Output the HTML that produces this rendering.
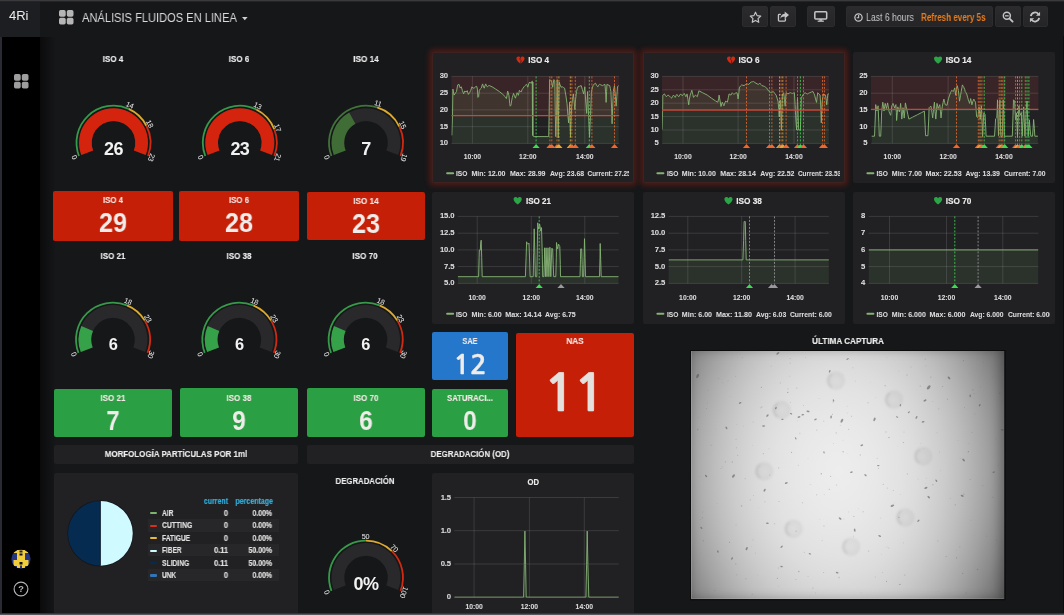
<!DOCTYPE html>
<html lang="es"><head><meta charset="utf-8"><title>ANÁLISIS FLUIDOS EN LINEA</title>
<style>
*{box-sizing:border-box;margin:0;padding:0}
html,body{width:1064px;height:615px;overflow:hidden;background:#161719;}
body{position:relative;font-family:"Liberation Sans",Arial,sans-serif;color:#d8d9da;-webkit-font-smoothing:antialiased}
.abs{position:absolute}
.panel{position:absolute;background:#212124;border-radius:2px}
.t{position:absolute;white-space:nowrap;line-height:1;transform-origin:50% 50%}
.ptitle{position:absolute;white-space:nowrap;font-weight:bold;font-size:10.5px;color:#ececec;line-height:12px;text-align:center;letter-spacing:-0.35px}
.stat{position:absolute;border-radius:2px;text-align:center;color:#ececec}
.stat .lbl{position:absolute;left:0;right:0;font-weight:bold;font-size:10px;line-height:12px;letter-spacing:-0.3px;color:#f3e3df}
.stat .val{position:absolute;left:0;right:0;font-weight:bold;line-height:1;color:#f0ebea}
svg{position:absolute;overflow:visible;will-change:transform}
.t{will-change:transform}
svg text{font-family:"Liberation Sans",Arial,sans-serif}
.btn{position:absolute;top:6px;height:21px;background:linear-gradient(#2b2b2e,#252527);border:1px solid #2c2c2f;border-radius:2px}
</style></head>
<body>
<div class="abs" style="left:0;top:0;width:1064px;height:1px;background:#3a3a3d"></div>
<div class="abs" style="left:0;top:1px;width:1064px;height:1px;background:#242427"></div>
<div class="abs" style="left:0;top:2px;width:40px;height:34.500px;background:#1d1e21"></div>
<div class="t" style="left:9.3px;top:9.00px;font-size:13px;color:#ececed;transform:scaleX(0.9894);transform-origin:0 50%;">4Ri</div>
<svg style="left:59.4px;top:9.8px" width="14.5" height="14.5" viewBox="0 0 14.5 14.5"><rect x="0" y="0" width="6.70" height="6.70" rx="1.7" fill="#b6b6b7"/><rect x="7.80" y="0" width="6.70" height="6.70" rx="1.7" fill="#b6b6b7"/><rect x="0" y="7.80" width="6.70" height="6.70" rx="1.7" fill="#b6b6b7"/><rect x="7.80" y="7.80" width="6.70" height="6.70" rx="1.7" fill="#b6b6b7"/></svg>
<div class="t" style="left:82.4px;top:11.00px;font-size:13px;color:#dadadb;transform:scaleX(0.8537);transform-origin:0 50%;">ANÁLISIS FLUIDOS EN LINEA</div>
<svg style="left:242px;top:16.500px" width="6" height="4" viewBox="0 0 6 4"><path d="M0 0h5.600L2.800 3.200z" fill="#d0d0d0"/></svg>
<div class="btn" style="left:742.2px;width:25.5px"></div>
<div class="btn" style="left:770px;width:26px"></div>
<div class="btn" style="left:806.9px;width:27.9px"></div>
<div class="btn" style="left:846px;width:146.6px"></div>
<div class="btn" style="left:995px;width:26px"></div>
<div class="btn" style="left:1022.6px;width:25.1px"></div>
<svg style="left:748.500px;top:10.500px" width="13" height="12.500" viewBox="0 0 24 23"><path d="M12 2.200l2.900 6.300 6.800.800-5 4.700 1.300 6.800-6-3.400-6 3.400 1.300-6.800-5-4.700 6.800-.800z" fill="none" stroke="#c4c4c5" stroke-width="2.200" stroke-linejoin="round"/></svg>
<svg style="left:777px;top:10.500px" width="12.500" height="11.500" viewBox="0 0 26 24"><path d="M17.500 15v4.500a1.500 1.500 0 0 1-1.500 1.500H4.500A1.500 1.500 0 0 1 3 19.500V8.500A1.500 1.500 0 0 1 4.500 7H8" fill="none" stroke="#c4c4c5" stroke-width="2.800"/><path d="M16 1l9 7.500-9 7.500v-4.500c-5 0-7.500 1.500-9 5 0-6 3-10.500 9-11z" fill="#c4c4c5"/></svg>
<svg style="left:814px;top:10.800px" width="13.500" height="11" viewBox="0 0 28 23"><rect x="1.600" y="1.600" width="24.800" height="15" rx="2" fill="none" stroke="#c4c4c5" stroke-width="3.200"/><rect x="11" y="17" width="6" height="3.500" fill="#c4c4c5"/><rect x="7.500" y="20" width="13" height="2.600" fill="#c4c4c5"/></svg>
<svg style="left:854px;top:12.800px" width="9" height="9" viewBox="0 0 20 20"><circle cx="10" cy="10" r="8.100" fill="none" stroke="#c4c4c5" stroke-width="2.800"/><path d="M10.300 4.500V10.500H6" fill="none" stroke="#c4c4c5" stroke-width="2.500"/></svg>
<div class="t" style="left:865.9px;top:12.00px;font-size:10.6px;color:#c6c7c8;transform:scaleX(0.8194);transform-origin:0 50%;">Last 6 hours</div>
<div class="t" style="left:920.5px;top:12.00px;font-size:10.6px;font-weight:bold;color:#eb7b18;transform:scaleX(0.7613);transform-origin:0 50%;">Refresh every 5s</div>
<svg style="left:1002px;top:10.800px" width="12" height="12" viewBox="0 0 26 26"><circle cx="10.500" cy="10.500" r="7.600" fill="none" stroke="#c4c4c5" stroke-width="3.200"/><path d="M16.500 16.500l6.500 6.500" stroke="#c4c4c5" stroke-width="4" stroke-linecap="round"/><path d="M6.500 10.500h8" stroke="#c4c4c5" stroke-width="2.800"/></svg>
<svg style="left:1029px;top:10.800px" width="12" height="12" viewBox="0 0 26 26"><path d="M4 11a9.200 9.200 0 0 1 16.500-4" fill="none" stroke="#c4c4c5" stroke-width="3.800"/><path d="M24 1.500v9h-9z" fill="#c4c4c5"/><path d="M22 15a9.200 9.200 0 0 1-16.500 4" fill="none" stroke="#c4c4c5" stroke-width="3.800"/><path d="M2 24.500v-9h9z" fill="#c4c4c5"/></svg>
<div class="abs" style="left:0;top:36.500px;width:2px;height:579px;background:#2a2a34"></div>
<div class="abs" style="left:2px;top:36.500px;width:38px;height:579px;background:#000"></div>
<div class="abs" style="left:40px;top:36.500px;width:16px;height:579px;background:linear-gradient(90deg,#0b0b0c,#161719)"></div>
<svg style="left:14px;top:74.3px" width="14.5" height="14.5" viewBox="0 0 14.5 14.5"><rect x="0" y="0" width="6.70" height="6.70" rx="1.7" fill="#9e9e9f"/><rect x="7.80" y="0" width="6.70" height="6.70" rx="1.7" fill="#9e9e9f"/><rect x="0" y="7.80" width="6.70" height="6.70" rx="1.7" fill="#9e9e9f"/><rect x="7.80" y="7.80" width="6.70" height="6.70" rx="1.7" fill="#9e9e9f"/></svg>
<svg style="left:11px;top:549px" width="20" height="20" viewBox="0 0 20 20"><defs><clipPath id="avc"><circle cx="10" cy="10" r="9.600"/></clipPath></defs><g clip-path="url(#avc)"><rect width="20" height="20" fill="#27357f"/><rect x="6" y="1" width="8" height="18" fill="#f1cc3b"/><rect x="2.500" y="11" width="15" height="6" fill="#f1cc3b"/><rect x="3" y="1" width="4" height="3" fill="#f1cc3b"/><rect x="13" y="1" width="4" height="3" fill="#f1cc3b"/><rect x="8.500" y="1.500" width="3" height="2" fill="#1b2355"/><rect x="8.500" y="4.500" width="3" height="2" fill="#111"/><rect x="8.500" y="13" width="3" height="2.500" fill="#111"/><rect x="9" y="16.500" width="2" height="3" fill="#27357f"/></g></svg>
<svg style="left:12.600px;top:581.400px" width="16" height="16" viewBox="0 0 16 16"><circle cx="8" cy="8" r="6.900" fill="none" stroke="#b4b4b5" stroke-width="1.150"/><text x="8" y="11.300" text-anchor="middle" font-size="9.200" font-weight="bold" fill="#b4b4b5">?</text></svg>
<div class="abs" style="left:0;top:613px;width:1064px;height:2px;background:linear-gradient(#242427,#68686c);z-index:50"></div>
<div class="abs" style="left:1063px;top:36px;width:1px;height:579px;background:#0c0c0d;z-index:49"></div>
<svg style="left:0;top:0" width="1064" height="615" viewBox="0 0 1064 615">
<path d="M78.12 156.28A37.9 37.9 0 0 1 128.99 108.11L128.26 109.75A36.1 36.1 0 0 0 79.80 155.64Z" fill="#369a4a"/><path d="M128.99 108.11A37.9 37.9 0 0 1 147.19 125.34L145.59 126.16A36.1 36.1 0 0 0 128.26 109.75Z" fill="#dcaa2e"/><path d="M147.19 125.34A37.9 37.9 0 0 1 148.88 156.28L147.20 155.64A36.1 36.1 0 0 0 145.59 126.16Z" fill="#d02a12"/><path d="M81.29 155.06A34.5 34.5 0 1 1 145.71 155.06L133.85 150.51A21.8 21.8 0 1 0 93.15 150.51Z" fill="#29292b"/><path d="M81.29 155.06A34.5 34.5 0 1 1 145.71 155.06L133.85 150.51A21.8 21.8 0 1 0 93.15 150.51Z" fill="#d5240d"/><text x="74.54" y="157.46" transform="rotate(249.0 74.54 157.46)" text-anchor="middle" dy="2.5" font-size="7.3" fill="#ededed" letter-spacing="-0.25">0</text><text x="129.84" y="105.10" transform="rotate(384.1 129.84 105.10)" text-anchor="middle" dy="2.5" font-size="7.3" fill="#ededed" letter-spacing="-0.25">14</text><text x="149.62" y="123.83" transform="rotate(422.7 149.62 123.83)" text-anchor="middle" dy="2.5" font-size="7.3" fill="#ededed" letter-spacing="-0.25">18</text><text x="151.46" y="157.46" transform="rotate(471.0 151.46 157.46)" text-anchor="middle" dy="2.5" font-size="7.3" fill="#ededed" letter-spacing="-0.25">23</text><text x="113.5" y="154.74" text-anchor="middle" font-size="18" font-weight="bold" fill="#f2f2f2" letter-spacing="-0.6">26</text>
<path d="M204.42 156.28A37.9 37.9 0 0 1 256.67 108.76L255.87 110.37A36.1 36.1 0 0 0 206.10 155.64Z" fill="#369a4a"/><path d="M256.67 108.76A37.9 37.9 0 0 1 275.11 128.94L273.44 129.60A36.1 36.1 0 0 0 255.87 110.37Z" fill="#dcaa2e"/><path d="M275.11 128.94A37.9 37.9 0 0 1 275.18 156.28L273.50 155.64A36.1 36.1 0 0 0 273.44 129.60Z" fill="#d02a12"/><path d="M207.59 155.06A34.5 34.5 0 1 1 272.01 155.06L260.15 150.51A21.8 21.8 0 1 0 219.45 150.51Z" fill="#29292b"/><path d="M207.59 155.06A34.5 34.5 0 1 1 272.01 155.06L260.15 150.51A21.8 21.8 0 1 0 219.45 150.51Z" fill="#d5240d"/><text x="200.84" y="157.46" transform="rotate(249.0 200.84 157.46)" text-anchor="middle" dy="2.5" font-size="7.3" fill="#ededed" letter-spacing="-0.25">0</text><text x="257.64" y="105.81" transform="rotate(386.4 257.64 105.81)" text-anchor="middle" dy="2.5" font-size="7.3" fill="#ededed" letter-spacing="-0.25">13</text><text x="277.69" y="127.74" transform="rotate(428.7 277.69 127.74)" text-anchor="middle" dy="2.5" font-size="7.3" fill="#ededed" letter-spacing="-0.25">17</text><text x="277.76" y="157.46" transform="rotate(471.0 277.76 157.46)" text-anchor="middle" dy="2.5" font-size="7.3" fill="#ededed" letter-spacing="-0.25">21</text><text x="239.8" y="154.74" text-anchor="middle" font-size="18" font-weight="bold" fill="#f2f2f2" letter-spacing="-0.6">23</text>
<path d="M330.62 156.28A37.9 37.9 0 0 1 377.41 106.56L376.87 108.28A36.1 36.1 0 0 0 332.30 155.64Z" fill="#42733a"/><path d="M377.41 106.56A37.9 37.9 0 0 1 400.14 126.24L398.52 127.02A36.1 36.1 0 0 0 376.87 108.28Z" fill="#dcaa2e"/><path d="M400.14 126.24A37.9 37.9 0 0 1 401.38 156.28L399.70 155.64A36.1 36.1 0 0 0 398.52 127.02Z" fill="#d02a12"/><path d="M333.79 155.06A34.5 34.5 0 1 1 398.21 155.06L386.35 150.51A21.8 21.8 0 1 0 345.65 150.51Z" fill="#29292b"/><path d="M333.79 155.06A34.5 34.5 0 0 1 349.16 112.59L355.36 123.67A21.8 21.8 0 0 0 345.65 150.51Z" fill="#3f6d35"/><text x="327.04" y="157.46" transform="rotate(249.0 327.04 157.46)" text-anchor="middle" dy="2.5" font-size="7.3" fill="#ededed" letter-spacing="-0.25">0</text><text x="377.91" y="103.41" transform="rotate(377.5 377.91 103.41)" text-anchor="middle" dy="2.5" font-size="7.3" fill="#ededed" letter-spacing="-0.25">11</text><text x="402.61" y="124.81" transform="rotate(424.3 402.61 124.81)" text-anchor="middle" dy="2.5" font-size="7.3" fill="#ededed" letter-spacing="-0.25">15</text><text x="403.96" y="157.46" transform="rotate(471.0 403.96 157.46)" text-anchor="middle" dy="2.5" font-size="7.3" fill="#ededed" letter-spacing="-0.25">19</text><text x="366.0" y="154.74" text-anchor="middle" font-size="18" font-weight="bold" fill="#f2f2f2" letter-spacing="-0.6">7</text>
<path d="M77.62 353.18A37.9 37.9 0 0 1 127.32 304.51L126.64 306.18A36.1 36.1 0 0 0 79.30 352.54Z" fill="#369a4a"/><path d="M127.32 304.51A37.9 37.9 0 0 1 145.55 320.19L144.01 321.12A36.1 36.1 0 0 0 126.64 306.18Z" fill="#dcaa2e"/><path d="M145.55 320.19A37.9 37.9 0 0 1 148.38 353.18L146.70 352.54A36.1 36.1 0 0 0 144.01 321.12Z" fill="#d02a12"/><path d="M80.79 351.96A34.5 34.5 0 1 1 145.21 351.96L133.35 347.41A21.8 21.8 0 1 0 92.65 347.41Z" fill="#29292b"/><path d="M80.79 351.96A34.5 34.5 0 0 1 81.34 325.90L92.99 330.94A21.8 21.8 0 0 0 92.65 347.41Z" fill="#35a24a"/><text x="74.04" y="354.36" transform="rotate(249.0 74.04 354.36)" text-anchor="middle" dy="2.5" font-size="7.3" fill="#ededed" letter-spacing="-0.25">0</text><text x="128.07" y="301.45" transform="rotate(382.2 128.07 301.45)" text-anchor="middle" dy="2.5" font-size="7.3" fill="#ededed" letter-spacing="-0.25">18</text><text x="147.89" y="318.50" transform="rotate(419.2 147.89 318.50)" text-anchor="middle" dy="2.5" font-size="7.3" fill="#ededed" letter-spacing="-0.25">23</text><text x="150.96" y="354.36" transform="rotate(471.0 150.96 354.36)" text-anchor="middle" dy="2.5" font-size="7.3" fill="#ededed" letter-spacing="-0.25">30</text><text x="113.0" y="350.37" text-anchor="middle" font-size="16.4" font-weight="bold" fill="#f2f2f2" letter-spacing="-0.6">6</text>
<path d="M203.92 353.18A37.9 37.9 0 0 1 253.62 304.51L252.94 306.18A36.1 36.1 0 0 0 205.60 352.54Z" fill="#369a4a"/><path d="M253.62 304.51A37.9 37.9 0 0 1 271.85 320.19L270.31 321.12A36.1 36.1 0 0 0 252.94 306.18Z" fill="#dcaa2e"/><path d="M271.85 320.19A37.9 37.9 0 0 1 274.68 353.18L273.00 352.54A36.1 36.1 0 0 0 270.31 321.12Z" fill="#d02a12"/><path d="M207.09 351.96A34.5 34.5 0 1 1 271.51 351.96L259.65 347.41A21.8 21.8 0 1 0 218.95 347.41Z" fill="#29292b"/><path d="M207.09 351.96A34.5 34.5 0 0 1 207.64 325.90L219.29 330.94A21.8 21.8 0 0 0 218.95 347.41Z" fill="#35a24a"/><text x="200.34" y="354.36" transform="rotate(249.0 200.34 354.36)" text-anchor="middle" dy="2.5" font-size="7.3" fill="#ededed" letter-spacing="-0.25">0</text><text x="254.37" y="301.45" transform="rotate(382.2 254.37 301.45)" text-anchor="middle" dy="2.5" font-size="7.3" fill="#ededed" letter-spacing="-0.25">18</text><text x="274.19" y="318.50" transform="rotate(419.2 274.19 318.50)" text-anchor="middle" dy="2.5" font-size="7.3" fill="#ededed" letter-spacing="-0.25">23</text><text x="277.26" y="354.36" transform="rotate(471.0 277.26 354.36)" text-anchor="middle" dy="2.5" font-size="7.3" fill="#ededed" letter-spacing="-0.25">30</text><text x="239.3" y="350.37" text-anchor="middle" font-size="16.4" font-weight="bold" fill="#f2f2f2" letter-spacing="-0.6">6</text>
<path d="M330.22 353.18A37.9 37.9 0 0 1 379.92 304.51L379.24 306.18A36.1 36.1 0 0 0 331.90 352.54Z" fill="#369a4a"/><path d="M379.92 304.51A37.9 37.9 0 0 1 398.15 320.19L396.61 321.12A36.1 36.1 0 0 0 379.24 306.18Z" fill="#dcaa2e"/><path d="M398.15 320.19A37.9 37.9 0 0 1 400.98 353.18L399.30 352.54A36.1 36.1 0 0 0 396.61 321.12Z" fill="#d02a12"/><path d="M333.39 351.96A34.5 34.5 0 1 1 397.81 351.96L385.95 347.41A21.8 21.8 0 1 0 345.25 347.41Z" fill="#29292b"/><path d="M333.39 351.96A34.5 34.5 0 0 1 333.94 325.90L345.59 330.94A21.8 21.8 0 0 0 345.25 347.41Z" fill="#35a24a"/><text x="326.64" y="354.36" transform="rotate(249.0 326.64 354.36)" text-anchor="middle" dy="2.5" font-size="7.3" fill="#ededed" letter-spacing="-0.25">0</text><text x="380.67" y="301.45" transform="rotate(382.2 380.67 301.45)" text-anchor="middle" dy="2.5" font-size="7.3" fill="#ededed" letter-spacing="-0.25">18</text><text x="400.49" y="318.50" transform="rotate(419.2 400.49 318.50)" text-anchor="middle" dy="2.5" font-size="7.3" fill="#ededed" letter-spacing="-0.25">23</text><text x="403.56" y="354.36" transform="rotate(471.0 403.56 354.36)" text-anchor="middle" dy="2.5" font-size="7.3" fill="#ededed" letter-spacing="-0.25">30</text><text x="365.6" y="350.37" text-anchor="middle" font-size="16.4" font-weight="bold" fill="#f2f2f2" letter-spacing="-0.6">6</text>
<path d="M330.62 591.18A37.9 37.9 0 0 1 366.00 539.70L366.00 541.50A36.1 36.1 0 0 0 332.30 590.54Z" fill="#369a4a"/><path d="M366.00 539.70A37.9 37.9 0 0 1 392.52 550.52L391.26 551.81A36.1 36.1 0 0 0 366.00 541.50Z" fill="#dcaa2e"/><path d="M392.52 550.52A37.9 37.9 0 0 1 401.38 591.18L399.70 590.54A36.1 36.1 0 0 0 391.26 551.81Z" fill="#d02a12"/><path d="M333.79 589.96A34.5 34.5 0 1 1 398.21 589.96L386.35 585.41A21.8 21.8 0 1 0 345.65 585.41Z" fill="#29292b"/><text x="327.04" y="592.36" transform="rotate(249.0 327.04 592.36)" text-anchor="middle" dy="2.5" font-size="7.3" fill="#ededed" letter-spacing="-0.25">0</text><text x="365.50" y="536.40" transform="rotate(360.0 365.50 536.40)" text-anchor="middle" dy="2.5" font-size="7.3" fill="#ededed" letter-spacing="-0.25">50</text><text x="394.33" y="548.16" transform="rotate(404.4 394.33 548.16)" text-anchor="middle" dy="2.5" font-size="7.3" fill="#ededed" letter-spacing="-0.25">70</text><text x="403.96" y="592.36" transform="rotate(471.0 403.96 592.36)" text-anchor="middle" dy="2.5" font-size="7.3" fill="#ededed" letter-spacing="-0.25">100</text><text x="366.0" y="590.24" text-anchor="middle" font-size="18" font-weight="bold" fill="#f2f2f2" letter-spacing="-0.6">0%</text>
</svg>
<div class="t" style="left:113.0px;top:54.00px;font-size:9.9px;font-weight:bold;color:#ececec;transform:translateX(-50%) scaleX(0.8139);transform-origin:50% 50%;-webkit-text-stroke-width:0.150px">ISO 4</div>
<div class="t" style="left:239.2px;top:54.00px;font-size:9.9px;font-weight:bold;color:#ececec;transform:translateX(-50%) scaleX(0.8139);transform-origin:50% 50%;-webkit-text-stroke-width:0.150px">ISO 6</div>
<div class="t" style="left:365.7px;top:54.00px;font-size:9.9px;font-weight:bold;color:#ececec;transform:translateX(-50%) scaleX(0.8307);transform-origin:50% 50%;-webkit-text-stroke-width:0.150px">ISO 14</div>
<div class="t" style="left:112.7px;top:251.00px;font-size:9.9px;font-weight:bold;color:#ececec;transform:translateX(-50%) scaleX(0.8080);transform-origin:50% 50%;-webkit-text-stroke-width:0.150px">ISO 21</div>
<div class="t" style="left:239.2px;top:251.00px;font-size:9.9px;font-weight:bold;color:#ececec;transform:translateX(-50%) scaleX(0.8080);transform-origin:50% 50%;-webkit-text-stroke-width:0.150px">ISO 38</div>
<div class="t" style="left:365.4px;top:251.00px;font-size:9.9px;font-weight:bold;color:#ececec;transform:translateX(-50%) scaleX(0.8210);transform-origin:50% 50%;-webkit-text-stroke-width:0.150px">ISO 70</div>
<div class="t" style="left:365.4px;top:476.00px;font-size:9.9px;font-weight:bold;color:#ececec;transform:translateX(-50%) scaleX(0.7901);transform-origin:50% 50%;-webkit-text-stroke-width:0.150px">DEGRADACIÓN</div>
<div class="stat" style="left:53.1px;top:190.9px;width:120.1px;height:49.8px;background:#c61f07"></div><div class="t" style="left:113.1px;top:195.00px;font-size:9.4px;font-weight:bold;color:#f4e9e6;transform:translateX(-50%) scaleX(0.8363);transform-origin:50% 50%;-webkit-text-stroke-width:0.120px">ISO 4</div><div class="t" style="left:113.1px;top:209.00px;font-size:27.8px;font-weight:bold;color:#f0ecea;transform:translateX(-50%) scaleX(0.9087);transform-origin:50% 50%;">29</div>
<div class="stat" style="left:179.2px;top:190.8px;width:119.5px;height:49.9px;background:#c61f07"></div><div class="t" style="left:238.9px;top:195.00px;font-size:9.4px;font-weight:bold;color:#f4e9e6;transform:translateX(-50%) scaleX(0.8363);transform-origin:50% 50%;-webkit-text-stroke-width:0.120px">ISO 6</div><div class="t" style="left:238.9px;top:209.00px;font-size:27.8px;font-weight:bold;color:#f0ecea;transform:translateX(-50%) scaleX(0.9087);transform-origin:50% 50%;">28</div>
<div class="stat" style="left:307.0px;top:191.8px;width:117.9px;height:48.0px;background:#c61f07"></div><div class="t" style="left:365.9px;top:196.00px;font-size:9.4px;font-weight:bold;color:#f4e9e6;transform:translateX(-50%) scaleX(0.8612);transform-origin:50% 50%;-webkit-text-stroke-width:0.120px">ISO 14</div><div class="t" style="left:365.9px;top:210.00px;font-size:27.8px;font-weight:bold;color:#f0ecea;transform:translateX(-50%) scaleX(0.9087);transform-origin:50% 50%;">23</div>
<div class="stat" style="left:53.6px;top:388.5px;width:118.4px;height:48.3px;background:#2a9f44"></div><div class="t" style="left:112.8px;top:393.00px;font-size:9.4px;font-weight:bold;color:#f4e9e6;transform:translateX(-50%) scaleX(0.8510);transform-origin:50% 50%;-webkit-text-stroke-width:0.120px">ISO 21</div><div class="t" style="left:112.8px;top:407.00px;font-size:27.8px;font-weight:bold;color:#f0ecea;transform:translateX(-50%) scaleX(0.8537);transform-origin:50% 50%;">7</div>
<div class="stat" style="left:180.1px;top:388.4px;width:118.1px;height:48.4px;background:#2a9f44"></div><div class="t" style="left:239.1px;top:393.00px;font-size:9.4px;font-weight:bold;color:#f4e9e6;transform:translateX(-50%) scaleX(0.8510);transform-origin:50% 50%;-webkit-text-stroke-width:0.120px">ISO 38</div><div class="t" style="left:239.1px;top:407.00px;font-size:27.8px;font-weight:bold;color:#f0ecea;transform:translateX(-50%) scaleX(0.8796);transform-origin:50% 50%;">9</div>
<div class="stat" style="left:307.2px;top:388.3px;width:117.7px;height:48.5px;background:#2a9f44"></div><div class="t" style="left:366.0px;top:393.00px;font-size:9.4px;font-weight:bold;color:#f4e9e6;transform:translateX(-50%) scaleX(0.8510);transform-origin:50% 50%;-webkit-text-stroke-width:0.120px">ISO 70</div><div class="t" style="left:366.0px;top:407.00px;font-size:27.8px;font-weight:bold;color:#f0ecea;transform:translateX(-50%) scaleX(0.8796);transform-origin:50% 50%;">6</div>
<div class="stat" style="left:432.2px;top:332.15px;width:75.8px;height:48.0px;background:#2477ca"></div><div class="t" style="left:470.1px;top:336.00px;font-size:9.4px;font-weight:bold;color:#f4e9e6;transform:translateX(-50%) scaleX(0.7812);transform-origin:50% 50%;-webkit-text-stroke-width:0.120px">SAE</div><div class="t" style="left:470.1px;top:353.00px;font-size:25.8px;font-weight:bold;color:#f0ecea;transform:translateX(-50%) scaleX(1.0780);transform-origin:50% 50%;font-family:'NanumGothic','Liberation Sans',sans-serif;-webkit-text-stroke:0.300px #f0ecea">12</div>
<div class="stat" style="left:432.2px;top:388.5px;width:75.8px;height:48.0px;background:#2a9f44"></div><div class="t" style="left:470.1px;top:393.00px;font-size:9.4px;font-weight:bold;color:#f4e9e6;transform:translateX(-50%) scaleX(0.8258);transform-origin:50% 50%;-webkit-text-stroke-width:0.120px">SATURACI...</div><div class="t" style="left:470.1px;top:407.00px;font-size:27.8px;font-weight:bold;color:#f0ecea;transform:translateX(-50%) scaleX(0.8796);transform-origin:50% 50%;">0</div>
<div class="stat" style="left:516.05px;top:332.5px;width:118.2px;height:104.0px;background:#c61f07"></div><div class="t" style="left:575.1px;top:336.00px;font-size:9.4px;font-weight:bold;color:#f4e9e6;transform:translateX(-50%) scaleX(0.8666);transform-origin:50% 50%;-webkit-text-stroke-width:0.120px">NAS</div><div class="t" style="left:573.3px;top:368.00px;font-size:51.3px;font-weight:bold;color:#f0ecea;transform:translateX(-50%) scaleX(1.0700);transform-origin:50% 50%;font-family:'NanumGothic','Liberation Sans',sans-serif;-webkit-text-stroke:0.500px #e4e0de;color:#e4e0de;letter-spacing:-3px">11</div>
<div class="panel" style="left:432.4px;top:52.0px;width:202.1px;height:131.0px;box-shadow:0 0 5px 2.500px rgba(140,34,22,0.42),inset 0 0 0 1px rgba(100,34,26,0.45)"></div>
<svg style="left:0;top:0" width="1064" height="615" viewBox="0 0 1064 615"><defs><clipPath id="cISO4"><rect x="451.4" y="75.4" width="167.80000000000007" height="68.5"/></clipPath><clipPath id="cISO4p"><rect x="432.4" y="52.0" width="196.6" height="131.0"/></clipPath></defs><rect x="451.4" y="76.4" width="167.8" height="39.3" fill="rgba(230,70,60,0.125)"/><g clip-path="url(#cISO4)"><polygon points="451.8,143.4 451.8,135.4 452.5,115.3 452.9,89.1 454.1,95.1 456.5,91.5 457.7,84.9 459.1,84.4 460.1,87.9 461.3,86.8 462.4,90.6 463.6,93.9 464.8,91.0 466.0,92.0 467.2,90.6 468.4,94.4 469.6,92.7 470.8,90.3 471.9,86.8 473.1,88.2 474.3,87.9 475.5,86.8 476.7,86.3 477.4,89.1 477.9,97.4 478.6,96.7 479.3,90.3 480.5,88.7 481.4,87.9 482.2,84.9 482.6,83.9 483.6,87.2 484.3,88.2 485.0,85.6 485.7,83.9 486.7,86.3 487.4,86.8 488.3,85.8 489.3,85.6 492.1,86.8 495.7,89.1 499.3,91.5 502.8,94.4 505.2,96.7 506.4,98.6 507.1,95.1 507.6,91.0 508.3,92.7 509.0,95.8 509.7,103.4 510.2,106.2 510.9,105.3 511.6,101.0 512.3,97.4 513.0,95.1 513.5,93.4 514.5,95.8 515.4,98.2 516.4,94.8 517.1,92.7 517.8,93.9 518.3,95.3 519.0,92.5 519.4,90.3 520.4,91.5 521.1,92.0 522.1,89.6 523.0,88.2 524.0,86.8 524.9,85.8 525.9,84.9 526.6,84.4 527.3,85.8 527.8,87.2 528.7,83.9 529.7,82.0 530.6,83.0 531.3,83.4 531.8,81.5 532.3,81.1 532.5,135.4 532.8,82.0 533.2,136.2 533.7,136.6 548.7,136.6 549.1,115.3 549.6,79.6 550.6,80.1 551.5,81.1 552.2,84.4 552.7,87.2 553.4,82.0 553.9,79.6 554.8,80.8 555.3,115.3 555.8,136.6 556.5,115.3 557.2,79.6 557.7,115.3 558.2,137.8 558.6,110.5 559.1,82.0 560.1,84.9 561.0,87.2 562.4,86.8 563.4,87.5 564.6,88.2 565.8,95.1 567.0,103.4 567.9,115.3 568.6,122.9 569.1,112.9 569.6,102.2 570.0,120.0 570.5,137.1 571.0,122.4 571.7,106.2 572.4,99.8 573.4,93.9 574.1,101.0 574.8,109.6 575.5,99.8 576.5,91.5 577.2,88.7 578.1,86.8 579.5,86.3 581.2,85.6 582.4,89.6 583.6,93.9 584.3,90.3 584.8,86.8 585.7,101.0 586.7,113.4 587.1,101.0 587.6,91.5 588.6,115.3 589.5,137.1 590.5,115.3 591.4,91.5 592.4,87.9 593.1,85.6 594.3,83.9 595.5,83.2 596.6,85.3 597.8,86.8 598.5,85.3 599.5,84.4 600.9,84.9 602.6,85.6 603.8,84.9 605.0,84.4 605.7,93.9 606.1,102.4 606.6,91.5 606.9,84.4 608.0,84.9 609.7,85.6 610.4,88.7 610.9,91.5 611.6,108.1 612.1,123.8 612.6,108.1 613.3,91.5 614.0,87.9 614.5,85.6 615.4,96.3 616.1,106.2 616.8,96.3 617.5,86.8 618.3,85.8 618.7,85.6 618.7,143.4" fill="rgba(126,178,109,0.115)"/></g><path d="M451.4 76.4H619.2" stroke="rgba(255,255,255,0.15)" stroke-width="0.800"/><path d="M451.4 93.2H619.2" stroke="rgba(255,255,255,0.15)" stroke-width="0.800"/><path d="M451.4 109.9H619.2" stroke="rgba(255,255,255,0.15)" stroke-width="0.800"/><path d="M451.4 126.7H619.2" stroke="rgba(255,255,255,0.15)" stroke-width="0.800"/><path d="M451.4 143.4H619.2" stroke="rgba(255,255,255,0.15)" stroke-width="0.800"/><path d="M472.4 76.4V143.4" stroke="rgba(255,255,255,0.15)" stroke-width="0.800"/><path d="M527.8 76.4V143.4" stroke="rgba(255,255,255,0.15)" stroke-width="0.800"/><path d="M584.8 76.4V143.4" stroke="rgba(255,255,255,0.15)" stroke-width="0.800"/><g clip-path="url(#cISO4)"><polyline points="451.8,135.4 452.5,115.3 452.9,89.1 454.1,95.1 456.5,91.5 457.7,84.9 459.1,84.4 460.1,87.9 461.3,86.8 462.4,90.6 463.6,93.9 464.8,91.0 466.0,92.0 467.2,90.6 468.4,94.4 469.6,92.7 470.8,90.3 471.9,86.8 473.1,88.2 474.3,87.9 475.5,86.8 476.7,86.3 477.4,89.1 477.9,97.4 478.6,96.7 479.3,90.3 480.5,88.7 481.4,87.9 482.2,84.9 482.6,83.9 483.6,87.2 484.3,88.2 485.0,85.6 485.7,83.9 486.7,86.3 487.4,86.8 488.3,85.8 489.3,85.6 492.1,86.8 495.7,89.1 499.3,91.5 502.8,94.4 505.2,96.7 506.4,98.6 507.1,95.1 507.6,91.0 508.3,92.7 509.0,95.8 509.7,103.4 510.2,106.2 510.9,105.3 511.6,101.0 512.3,97.4 513.0,95.1 513.5,93.4 514.5,95.8 515.4,98.2 516.4,94.8 517.1,92.7 517.8,93.9 518.3,95.3 519.0,92.5 519.4,90.3 520.4,91.5 521.1,92.0 522.1,89.6 523.0,88.2 524.0,86.8 524.9,85.8 525.9,84.9 526.6,84.4 527.3,85.8 527.8,87.2 528.7,83.9 529.7,82.0 530.6,83.0 531.3,83.4 531.8,81.5 532.3,81.1 532.5,135.4 532.8,82.0 533.2,136.2 533.7,136.6 548.7,136.6 549.1,115.3 549.6,79.6 550.6,80.1 551.5,81.1 552.2,84.4 552.7,87.2 553.4,82.0 553.9,79.6 554.8,80.8 555.3,115.3 555.8,136.6 556.5,115.3 557.2,79.6 557.7,115.3 558.2,137.8 558.6,110.5 559.1,82.0 560.1,84.9 561.0,87.2 562.4,86.8 563.4,87.5 564.6,88.2 565.8,95.1 567.0,103.4 567.9,115.3 568.6,122.9 569.1,112.9 569.6,102.2 570.0,120.0 570.5,137.1 571.0,122.4 571.7,106.2 572.4,99.8 573.4,93.9 574.1,101.0 574.8,109.6 575.5,99.8 576.5,91.5 577.2,88.7 578.1,86.8 579.5,86.3 581.2,85.6 582.4,89.6 583.6,93.9 584.3,90.3 584.8,86.8 585.7,101.0 586.7,113.4 587.1,101.0 587.6,91.5 588.6,115.3 589.5,137.1 590.5,115.3 591.4,91.5 592.4,87.9 593.1,85.6 594.3,83.9 595.5,83.2 596.6,85.3 597.8,86.8 598.5,85.3 599.5,84.4 600.9,84.9 602.6,85.6 603.8,84.9 605.0,84.4 605.7,93.9 606.1,102.4 606.6,91.5 606.9,84.4 608.0,84.9 609.7,85.6 610.4,88.7 610.9,91.5 611.6,108.1 612.1,123.8 612.6,108.1 613.3,91.5 614.0,87.9 614.5,85.6 615.4,96.3 616.1,106.2 616.8,96.3 617.5,86.8 618.3,85.8 618.7,85.6" fill="none" stroke="#86b374" stroke-width="1" stroke-linejoin="round" stroke-opacity="0.92"/></g><path d="M451.4 115.7H619.2" stroke="#c9473a" stroke-width="1.300"/><path d="M536.1 76.4V143.4" stroke="#3fdc52" stroke-width="0.900" stroke-dasharray="2 1.500" stroke-opacity="0.9"/><path d="M532.5 148.0L536.1 144.1L539.7 148.0Z" fill="#3fdc52"/><path d="M549.9 76.4V143.4" stroke="#ee6a2c" stroke-width="0.900" stroke-dasharray="2 1.500" stroke-opacity="0.9"/><path d="M546.3 148.0L549.9 144.1L553.5 148.0Z" fill="#ee6a2c"/><path d="M551.8 76.4V143.4" stroke="#ee6a2c" stroke-width="0.900" stroke-dasharray="2 1.500" stroke-opacity="0.9"/><path d="M548.2 148.0L551.8 144.1L555.4 148.0Z" fill="#ee6a2c"/><path d="M557.0 76.4V143.4" stroke="#ee6a2c" stroke-width="0.900" stroke-dasharray="2 1.500" stroke-opacity="0.9"/><path d="M553.4 148.0L557.0 144.1L560.6 148.0Z" fill="#ee6a2c"/><path d="M558.9 76.4V143.4" stroke="#e2a93a" stroke-width="0.900" stroke-dasharray="2 1.500" stroke-opacity="0.9"/><path d="M555.3 148.0L558.9 144.1L562.5 148.0Z" fill="#e2a93a"/><path d="M570.3 76.4V143.4" stroke="#e2a93a" stroke-width="0.900" stroke-dasharray="2 1.500" stroke-opacity="0.9"/><path d="M566.7 148.0L570.3 144.1L573.9 148.0Z" fill="#e2a93a"/><path d="M571.9 76.4V143.4" stroke="#ee6a2c" stroke-width="0.900" stroke-dasharray="2 1.500" stroke-opacity="0.9"/><path d="M568.3 148.0L571.9 144.1L575.5 148.0Z" fill="#ee6a2c"/><path d="M575.3 76.4V143.4" stroke="#ee6a2c" stroke-width="0.900" stroke-dasharray="2 1.500" stroke-opacity="0.9"/><path d="M571.7 148.0L575.3 144.1L578.9 148.0Z" fill="#ee6a2c"/><path d="M589.3 76.4V143.4" stroke="#3fdc52" stroke-width="0.900" stroke-dasharray="2 1.500" stroke-opacity="0.9"/><path d="M585.7 148.0L589.3 144.1L592.9 148.0Z" fill="#3fdc52"/><path d="M591.9 76.4V143.4" stroke="#ee6a2c" stroke-width="0.900" stroke-dasharray="2 1.500" stroke-opacity="0.9"/><path d="M588.3 148.0L591.9 144.1L595.5 148.0Z" fill="#ee6a2c"/><path d="M614.5 76.4V143.4" stroke="#ee6a2c" stroke-width="0.900" stroke-dasharray="2 1.500" stroke-opacity="0.9"/><path d="M610.9 148.0L614.5 144.1L618.1 148.0Z" fill="#ee6a2c"/><text x="448.0" y="78.4" text-anchor="end" font-size="7.7" font-weight="bold" fill="#dcdcdd" stroke="#dcdcdd" stroke-width="0.08" letter-spacing="-0.15">30</text><text x="448.0" y="95.2" text-anchor="end" font-size="7.7" font-weight="bold" fill="#dcdcdd" stroke="#dcdcdd" stroke-width="0.08" letter-spacing="-0.15">25</text><text x="448.0" y="111.9" text-anchor="end" font-size="7.7" font-weight="bold" fill="#dcdcdd" stroke="#dcdcdd" stroke-width="0.08" letter-spacing="-0.15">20</text><text x="448.0" y="128.7" text-anchor="end" font-size="7.7" font-weight="bold" fill="#dcdcdd" stroke="#dcdcdd" stroke-width="0.08" letter-spacing="-0.15">15</text><text x="448.0" y="145.4" text-anchor="end" font-size="7.7" font-weight="bold" fill="#dcdcdd" stroke="#dcdcdd" stroke-width="0.08" letter-spacing="-0.15">10</text><text x="463.7" y="159.4" font-size="7.7" font-weight="bold" fill="#dcdcdd" stroke="#dcdcdd" stroke-width="0.08" textLength="17.4" lengthAdjust="spacingAndGlyphs">10:00</text><text x="519.1" y="159.4" font-size="7.7" font-weight="bold" fill="#dcdcdd" stroke="#dcdcdd" stroke-width="0.08" textLength="17.4" lengthAdjust="spacingAndGlyphs">12:00</text><text x="576.1" y="159.4" font-size="7.7" font-weight="bold" fill="#dcdcdd" stroke="#dcdcdd" stroke-width="0.08" textLength="17.4" lengthAdjust="spacingAndGlyphs">14:00</text><text x="528.2" y="62.9" font-size="9.9" font-weight="bold" fill="#ececec" stroke="#ececec" stroke-width="0.150" textLength="20.9" lengthAdjust="spacingAndGlyphs">ISO 4</text><path transform="translate(516.4 56.4) scale(0.51)" d="M8 14.500C2 10 0 7 0 4.200 0 1.800 1.800 0 4 0c1.600 0 3 .900 4 2.300C9 .900 10.400 0 12 0c2.200 0 4 1.800 4 4.200 0 2.800-2 5.800-8 10.300z" fill="#d42a12"/><path transform="translate(516.4 56.4) scale(0.51)" d="M8.600 1.500L6.500 5.500 9.600 8.200 7.800 14.500" stroke="#212124" stroke-width="1.500" fill="none"/><g clip-path="url(#cISO4p)"><rect x="446.1" y="172.3" width="8" height="2" rx="1" fill="#86b374"/><text x="456.0" y="176.0" font-size="7.7" font-weight="bold" fill="#dcdcdd" stroke="#dcdcdd" stroke-width="0.08" textLength="11.4" lengthAdjust="spacingAndGlyphs">ISO</text><text x="471.5" y="176.0" font-size="7.7" font-weight="bold" fill="#dcdcdd" stroke="#dcdcdd" stroke-width="0.08" textLength="34.0" lengthAdjust="spacingAndGlyphs">Min: 12.00</text><text x="509.9" y="176.0" font-size="7.7" font-weight="bold" fill="#dcdcdd" stroke="#dcdcdd" stroke-width="0.08" textLength="35.6" lengthAdjust="spacingAndGlyphs">Max: 28.99</text><text x="549.9" y="176.0" font-size="7.7" font-weight="bold" fill="#dcdcdd" stroke="#dcdcdd" stroke-width="0.08" textLength="34.2" lengthAdjust="spacingAndGlyphs">Avg: 23.68</text><text x="587.6" y="176.0" font-size="7.7" font-weight="bold" fill="#dcdcdd" stroke="#dcdcdd" stroke-width="0.08" textLength="43.0" lengthAdjust="spacingAndGlyphs">Current: 27.25</text></g></svg>
<div class="panel" style="left:643.0px;top:52.0px;width:202.4px;height:130.8px;box-shadow:0 0 5px 2.500px rgba(140,34,22,0.42),inset 0 0 0 1px rgba(100,34,26,0.45)"></div>
<svg style="left:0;top:0" width="1064" height="615" viewBox="0 0 1064 615"><defs><clipPath id="cISO6"><rect x="662.1" y="75.4" width="166.79999999999995" height="68.5"/></clipPath><clipPath id="cISO6p"><rect x="643.0" y="52.0" width="196.9" height="130.8"/></clipPath></defs><rect x="662.1" y="76.4" width="166.8" height="33.6" fill="rgba(230,70,60,0.125)"/><g clip-path="url(#cISO6)"><polygon points="662.1,143.4 662.1,129.5 662.6,110.5 662.8,95.1 663.8,94.4 664.5,93.9 665.5,95.8 666.4,96.7 667.4,95.5 668.1,95.1 669.0,95.8 669.7,96.3 670.7,97.4 671.6,98.2 672.6,96.3 673.5,95.1 674.5,96.5 675.2,97.4 676.1,95.5 676.9,94.4 677.8,95.8 678.8,96.7 679.7,95.1 680.7,93.9 681.6,95.1 682.3,95.8 683.3,94.4 684.2,93.4 685.2,95.3 685.9,96.7 686.6,94.8 687.1,93.9 688.0,99.8 688.7,104.8 689.4,99.1 690.2,95.1 691.1,92.5 691.8,90.3 692.8,94.4 693.5,97.4 694.4,96.0 695.4,95.1 696.3,96.0 697.3,96.7 698.2,93.4 698.9,90.8 702.5,92.7 707.3,95.1 711.5,98.2 715.6,101.0 717.9,102.2 718.7,98.2 719.1,95.1 720.1,101.0 721.0,106.5 721.7,103.9 722.2,102.2 723.2,104.3 723.9,105.8 724.8,102.9 725.8,101.0 726.7,101.7 727.4,102.2 728.4,97.4 729.1,93.9 730.1,94.6 731.0,95.1 731.7,93.6 732.2,92.7 733.1,93.6 733.9,94.4 734.6,93.6 735.3,93.2 736.2,92.9 737.0,92.7 737.7,96.3 738.1,98.9 738.9,92.7 739.3,87.9 740.5,86.0 741.7,84.9 742.9,85.3 744.1,85.6 745.3,84.6 746.5,83.9 747.6,84.1 748.8,84.4 750.0,83.0 751.2,82.0 752.4,81.8 753.6,81.5 754.8,82.5 756.0,83.2 757.1,83.9 758.3,84.4 759.3,83.7 760.0,83.2 760.9,84.6 761.9,85.6 763.1,86.0 764.3,86.3 765.5,87.2 766.6,87.9 767.8,89.8 769.0,91.5 770.2,92.2 771.4,92.7 772.3,92.0 773.3,91.5 774.7,93.4 776.1,95.1 777.1,98.2 778.0,101.0 778.8,109.3 779.2,116.7 779.7,107.7 780.2,99.8 780.9,115.3 781.4,130.0 781.8,112.9 782.3,95.1 783.0,93.6 783.7,92.7 784.5,99.8 785.2,106.2 785.6,98.6 786.1,92.7 787.1,93.4 788.0,93.9 789.2,93.2 790.4,92.7 791.6,93.2 792.8,93.4 793.7,92.9 794.4,92.7 795.1,104.6 795.6,115.3 796.1,123.6 796.6,130.0 797.0,112.9 797.5,97.4 798.2,115.3 798.7,130.0 800.4,130.0 800.8,115.3 801.3,98.6 802.0,96.5 802.7,95.1 803.9,93.6 805.1,92.7 806.3,93.4 807.5,93.9 808.7,93.2 809.9,92.7 811.3,92.0 813.0,91.5 813.9,93.4 814.6,95.1 815.6,99.1 816.5,102.4 817.2,96.7 817.7,92.7 818.9,94.1 820.1,95.1 820.8,108.1 821.3,122.9 821.7,111.7 822.2,101.0 822.9,96.7 823.6,93.9 824.6,94.6 825.5,95.1 826.3,100.5 826.7,104.8 827.4,98.6 827.9,93.9 828.9,93.9 828.9,143.4" fill="rgba(126,178,109,0.115)"/></g><path d="M662.1 76.4H828.9" stroke="rgba(255,255,255,0.15)" stroke-width="0.800"/><path d="M662.1 89.8H828.9" stroke="rgba(255,255,255,0.15)" stroke-width="0.800"/><path d="M662.1 103.2H828.9" stroke="rgba(255,255,255,0.15)" stroke-width="0.800"/><path d="M662.1 116.6H828.9" stroke="rgba(255,255,255,0.15)" stroke-width="0.800"/><path d="M662.1 130.0H828.9" stroke="rgba(255,255,255,0.15)" stroke-width="0.800"/><path d="M662.1 143.4H828.9" stroke="rgba(255,255,255,0.15)" stroke-width="0.800"/><path d="M683.0 76.4V143.4" stroke="rgba(255,255,255,0.15)" stroke-width="0.800"/><path d="M738.1 76.4V143.4" stroke="rgba(255,255,255,0.15)" stroke-width="0.800"/><path d="M794.0 76.4V143.4" stroke="rgba(255,255,255,0.15)" stroke-width="0.800"/><g clip-path="url(#cISO6)"><polyline points="662.1,129.5 662.6,110.5 662.8,95.1 663.8,94.4 664.5,93.9 665.5,95.8 666.4,96.7 667.4,95.5 668.1,95.1 669.0,95.8 669.7,96.3 670.7,97.4 671.6,98.2 672.6,96.3 673.5,95.1 674.5,96.5 675.2,97.4 676.1,95.5 676.9,94.4 677.8,95.8 678.8,96.7 679.7,95.1 680.7,93.9 681.6,95.1 682.3,95.8 683.3,94.4 684.2,93.4 685.2,95.3 685.9,96.7 686.6,94.8 687.1,93.9 688.0,99.8 688.7,104.8 689.4,99.1 690.2,95.1 691.1,92.5 691.8,90.3 692.8,94.4 693.5,97.4 694.4,96.0 695.4,95.1 696.3,96.0 697.3,96.7 698.2,93.4 698.9,90.8 702.5,92.7 707.3,95.1 711.5,98.2 715.6,101.0 717.9,102.2 718.7,98.2 719.1,95.1 720.1,101.0 721.0,106.5 721.7,103.9 722.2,102.2 723.2,104.3 723.9,105.8 724.8,102.9 725.8,101.0 726.7,101.7 727.4,102.2 728.4,97.4 729.1,93.9 730.1,94.6 731.0,95.1 731.7,93.6 732.2,92.7 733.1,93.6 733.9,94.4 734.6,93.6 735.3,93.2 736.2,92.9 737.0,92.7 737.7,96.3 738.1,98.9 738.9,92.7 739.3,87.9 740.5,86.0 741.7,84.9 742.9,85.3 744.1,85.6 745.3,84.6 746.5,83.9 747.6,84.1 748.8,84.4 750.0,83.0 751.2,82.0 752.4,81.8 753.6,81.5 754.8,82.5 756.0,83.2 757.1,83.9 758.3,84.4 759.3,83.7 760.0,83.2 760.9,84.6 761.9,85.6 763.1,86.0 764.3,86.3 765.5,87.2 766.6,87.9 767.8,89.8 769.0,91.5 770.2,92.2 771.4,92.7 772.3,92.0 773.3,91.5 774.7,93.4 776.1,95.1 777.1,98.2 778.0,101.0 778.8,109.3 779.2,116.7 779.7,107.7 780.2,99.8 780.9,115.3 781.4,130.0 781.8,112.9 782.3,95.1 783.0,93.6 783.7,92.7 784.5,99.8 785.2,106.2 785.6,98.6 786.1,92.7 787.1,93.4 788.0,93.9 789.2,93.2 790.4,92.7 791.6,93.2 792.8,93.4 793.7,92.9 794.4,92.7 795.1,104.6 795.6,115.3 796.1,123.6 796.6,130.0 797.0,112.9 797.5,97.4 798.2,115.3 798.7,130.0 800.4,130.0 800.8,115.3 801.3,98.6 802.0,96.5 802.7,95.1 803.9,93.6 805.1,92.7 806.3,93.4 807.5,93.9 808.7,93.2 809.9,92.7 811.3,92.0 813.0,91.5 813.9,93.4 814.6,95.1 815.6,99.1 816.5,102.4 817.2,96.7 817.7,92.7 818.9,94.1 820.1,95.1 820.8,108.1 821.3,122.9 821.7,111.7 822.2,101.0 822.9,96.7 823.6,93.9 824.6,94.6 825.5,95.1 826.3,100.5 826.7,104.8 827.4,98.6 827.9,93.9 828.9,93.9" fill="none" stroke="#86b374" stroke-width="1" stroke-linejoin="round" stroke-opacity="0.92"/></g><path d="M662.1 110.0H828.9" stroke="#c9473a" stroke-width="1.300"/><path d="M746.5 76.4V143.4" stroke="#ee6a2c" stroke-width="0.900" stroke-dasharray="2 1.500" stroke-opacity="0.9"/><path d="M742.9 148.0L746.5 144.1L750.1 148.0Z" fill="#ee6a2c"/><path d="M769.5 76.4V143.4" stroke="#ee6a2c" stroke-width="0.900" stroke-dasharray="2 1.500" stroke-opacity="0.9"/><path d="M765.9 148.0L769.5 144.1L773.1 148.0Z" fill="#ee6a2c"/><path d="M771.9 76.4V143.4" stroke="#ee6a2c" stroke-width="0.900" stroke-dasharray="2 1.500" stroke-opacity="0.9"/><path d="M768.3 148.0L771.9 144.1L775.5 148.0Z" fill="#ee6a2c"/><path d="M779.5 76.4V143.4" stroke="#e2a93a" stroke-width="0.900" stroke-dasharray="2 1.500" stroke-opacity="0.9"/><path d="M775.9 148.0L779.5 144.1L783.1 148.0Z" fill="#e2a93a"/><path d="M781.1 76.4V143.4" stroke="#ee6a2c" stroke-width="0.900" stroke-dasharray="2 1.500" stroke-opacity="0.9"/><path d="M777.5 148.0L781.1 144.1L784.7 148.0Z" fill="#ee6a2c"/><path d="M782.8 76.4V143.4" stroke="#e2a93a" stroke-width="0.900" stroke-dasharray="2 1.500" stroke-opacity="0.9"/><path d="M779.2 148.0L782.8 144.1L786.4 148.0Z" fill="#e2a93a"/><path d="M786.1 76.4V143.4" stroke="#ee6a2c" stroke-width="0.900" stroke-dasharray="2 1.500" stroke-opacity="0.9"/><path d="M782.5 148.0L786.1 144.1L789.7 148.0Z" fill="#ee6a2c"/><path d="M797.5 76.4V143.4" stroke="#ee6a2c" stroke-width="0.900" stroke-dasharray="2 1.500" stroke-opacity="0.9"/><path d="M793.9 148.0L797.5 144.1L801.1 148.0Z" fill="#ee6a2c"/><path d="M800.4 76.4V143.4" stroke="#3fdc52" stroke-width="0.900" stroke-dasharray="2 1.500" stroke-opacity="0.9"/><path d="M796.8 148.0L800.4 144.1L804.0 148.0Z" fill="#3fdc52"/><path d="M803.5 76.4V143.4" stroke="#ee6a2c" stroke-width="0.900" stroke-dasharray="2 1.500" stroke-opacity="0.9"/><path d="M799.9 148.0L803.5 144.1L807.1 148.0Z" fill="#ee6a2c"/><path d="M822.5 76.4V143.4" stroke="#ee6a2c" stroke-width="0.900" stroke-dasharray="2 1.500" stroke-opacity="0.9"/><path d="M818.9 148.0L822.5 144.1L826.1 148.0Z" fill="#ee6a2c"/><path d="M824.4 76.4V143.4" stroke="#ee6a2c" stroke-width="0.900" stroke-dasharray="2 1.500" stroke-opacity="0.9"/><path d="M820.8 148.0L824.4 144.1L828.0 148.0Z" fill="#ee6a2c"/><text x="658.7" y="78.4" text-anchor="end" font-size="7.7" font-weight="bold" fill="#dcdcdd" stroke="#dcdcdd" stroke-width="0.08" letter-spacing="-0.15">30</text><text x="658.7" y="91.8" text-anchor="end" font-size="7.7" font-weight="bold" fill="#dcdcdd" stroke="#dcdcdd" stroke-width="0.08" letter-spacing="-0.15">25</text><text x="658.7" y="105.2" text-anchor="end" font-size="7.7" font-weight="bold" fill="#dcdcdd" stroke="#dcdcdd" stroke-width="0.08" letter-spacing="-0.15">20</text><text x="658.7" y="118.6" text-anchor="end" font-size="7.7" font-weight="bold" fill="#dcdcdd" stroke="#dcdcdd" stroke-width="0.08" letter-spacing="-0.15">15</text><text x="658.7" y="132.0" text-anchor="end" font-size="7.7" font-weight="bold" fill="#dcdcdd" stroke="#dcdcdd" stroke-width="0.08" letter-spacing="-0.15">10</text><text x="658.7" y="145.4" text-anchor="end" font-size="7.7" font-weight="bold" fill="#dcdcdd" stroke="#dcdcdd" stroke-width="0.08" letter-spacing="-0.15">5</text><text x="674.3" y="159.4" font-size="7.7" font-weight="bold" fill="#dcdcdd" stroke="#dcdcdd" stroke-width="0.08" textLength="17.4" lengthAdjust="spacingAndGlyphs">10:00</text><text x="729.4" y="159.4" font-size="7.7" font-weight="bold" fill="#dcdcdd" stroke="#dcdcdd" stroke-width="0.08" textLength="17.4" lengthAdjust="spacingAndGlyphs">12:00</text><text x="785.3" y="159.4" font-size="7.7" font-weight="bold" fill="#dcdcdd" stroke="#dcdcdd" stroke-width="0.08" textLength="17.4" lengthAdjust="spacingAndGlyphs">14:00</text><text x="738.6" y="62.9" font-size="9.9" font-weight="bold" fill="#ececec" stroke="#ececec" stroke-width="0.150" textLength="20.9" lengthAdjust="spacingAndGlyphs">ISO 6</text><path transform="translate(727.0 56.4) scale(0.51)" d="M8 14.500C2 10 0 7 0 4.200 0 1.800 1.800 0 4 0c1.600 0 3 .900 4 2.300C9 .900 10.400 0 12 0c2.200 0 4 1.800 4 4.200 0 2.800-2 5.800-8 10.300z" fill="#d42a12"/><path transform="translate(727.0 56.4) scale(0.51)" d="M8.600 1.500L6.500 5.500 9.600 8.200 7.800 14.500" stroke="#212124" stroke-width="1.500" fill="none"/><g clip-path="url(#cISO6p)"><rect x="656.4" y="172.3" width="8" height="2" rx="1" fill="#86b374"/><text x="666.9" y="176.0" font-size="7.7" font-weight="bold" fill="#dcdcdd" stroke="#dcdcdd" stroke-width="0.08" textLength="11.4" lengthAdjust="spacingAndGlyphs">ISO</text><text x="681.8" y="176.0" font-size="7.7" font-weight="bold" fill="#dcdcdd" stroke="#dcdcdd" stroke-width="0.08" textLength="34.0" lengthAdjust="spacingAndGlyphs">Min: 10.00</text><text x="720.3" y="176.0" font-size="7.7" font-weight="bold" fill="#dcdcdd" stroke="#dcdcdd" stroke-width="0.08" textLength="35.6" lengthAdjust="spacingAndGlyphs">Max: 28.14</text><text x="760.2" y="176.0" font-size="7.7" font-weight="bold" fill="#dcdcdd" stroke="#dcdcdd" stroke-width="0.08" textLength="34.2" lengthAdjust="spacingAndGlyphs">Avg: 22.52</text><text x="798.0" y="176.0" font-size="7.7" font-weight="bold" fill="#dcdcdd" stroke="#dcdcdd" stroke-width="0.08" textLength="43.0" lengthAdjust="spacingAndGlyphs">Current: 23.53</text></g></svg>
<div class="panel" style="left:853.0px;top:52.0px;width:202.3px;height:131.2px"></div>
<svg style="left:0;top:0" width="1064" height="615" viewBox="0 0 1064 615"><defs><clipPath id="cISO14"><rect x="870.9" y="75.4" width="167.5000000000001" height="68.5"/></clipPath><clipPath id="cISO14p"><rect x="853.0" y="52.0" width="196.8" height="131.2"/></clipPath></defs><rect x="870.9" y="76.4" width="167.5" height="32.9" fill="rgba(230,70,60,0.125)"/><g clip-path="url(#cISO14)"><polygon points="871.7,143.4 871.7,136.2 874.5,136.2 875.2,120.0 875.7,104.6 876.4,108.1 876.9,111.0 877.6,107.7 878.1,105.8 878.8,122.4 879.3,136.2 880.7,136.2 881.2,124.8 881.6,112.9 882.3,106.2 882.8,102.2 883.5,107.2 884.0,111.0 884.7,106.2 885.2,103.4 885.9,106.2 886.4,108.6 887.1,105.3 887.6,102.9 888.5,108.1 889.2,111.9 889.9,113.8 890.7,115.3 891.4,109.6 891.8,105.8 892.6,104.3 893.0,103.4 894.0,106.2 894.7,108.1 895.4,105.8 895.9,104.6 896.4,112.9 896.6,120.5 897.3,112.9 897.8,106.9 898.7,109.8 899.4,111.9 900.2,107.2 900.6,103.4 901.3,111.9 901.8,119.1 902.5,112.9 903.0,107.7 903.7,113.4 904.2,118.1 904.9,109.6 905.4,102.9 906.1,106.2 906.8,109.3 907.8,114.3 908.9,119.1 912.5,117.2 917.3,114.8 921.5,112.6 924.4,111.2 925.1,124.8 925.6,135.7 927.9,135.7 928.7,120.0 929.1,107.7 930.1,106.7 931.0,106.2 932.0,112.9 932.7,117.9 933.6,108.6 934.4,102.2 935.1,111.5 935.8,119.1 936.5,110.0 937.0,103.4 937.7,106.2 938.2,108.4 939.1,106.2 939.8,104.6 940.5,111.9 941.0,117.9 941.7,111.7 942.2,106.9 943.1,102.4 943.9,99.1 944.6,102.2 945.3,104.8 946.2,105.0 947.0,105.3 947.9,101.0 948.6,98.2 949.6,95.1 950.5,92.7 951.2,91.3 951.7,90.3 952.7,91.0 953.4,91.5 954.1,89.6 954.8,87.9 955.3,92.0 955.7,95.3 956.5,89.6 957.2,85.6 957.9,88.2 958.4,90.6 959.1,96.7 959.5,101.2 960.5,95.8 961.2,91.5 961.9,87.7 962.4,84.9 963.3,86.5 964.1,87.9 964.8,89.8 965.2,91.5 966.0,92.7 966.7,93.9 967.6,97.2 968.3,99.8 969.0,101.7 969.5,103.4 970.2,100.8 970.7,98.6 971.4,102.0 971.9,104.8 972.8,101.5 973.8,99.1 974.7,100.8 975.5,102.2 976.2,110.5 976.6,116.7 977.4,117.2 977.8,117.6 978.5,111.5 979.0,106.9 979.7,113.8 980.2,119.1 980.9,111.5 981.4,105.8 982.1,122.4 982.6,136.6 983.3,122.4 983.8,112.9 984.5,113.6 985.0,114.1 985.7,127.1 986.1,136.2 994.5,136.2 995.2,125.9 995.6,118.8 996.4,118.1 996.8,117.6 997.3,107.7 997.5,99.8 998.0,120.0 998.5,135.7 999.2,115.3 999.9,99.8 1000.4,120.0 1000.9,136.2 1002.3,136.2 1002.8,115.3 1003.2,99.8 1004.0,120.0 1004.4,136.2 1012.3,136.2 1013.0,115.3 1013.5,99.8 1014.2,100.5 1014.6,101.0 1015.1,111.7 1015.6,120.0 1016.1,116.2 1016.5,112.9 1017.0,125.9 1017.5,136.2 1018.2,120.0 1018.9,105.8 1019.6,111.0 1020.1,115.3 1020.8,113.8 1021.3,112.9 1021.8,125.9 1022.2,136.2 1023.0,120.0 1023.7,106.9 1024.4,122.4 1024.9,136.2 1025.6,124.8 1026.0,115.3 1026.5,107.7 1027.0,101.0 1027.7,120.0 1028.2,136.2 1028.9,127.1 1029.4,120.0 1030.1,129.0 1030.8,136.2 1032.5,136.2 1033.2,127.1 1033.6,119.5 1034.4,128.6 1034.8,136.2 1037.9,136.2 1037.9,143.4" fill="rgba(126,178,109,0.115)"/></g><path d="M870.9 76.4H1038.4" stroke="rgba(255,255,255,0.15)" stroke-width="0.800"/><path d="M870.9 93.2H1038.4" stroke="rgba(255,255,255,0.15)" stroke-width="0.800"/><path d="M870.9 109.9H1038.4" stroke="rgba(255,255,255,0.15)" stroke-width="0.800"/><path d="M870.9 126.7H1038.4" stroke="rgba(255,255,255,0.15)" stroke-width="0.800"/><path d="M870.9 143.4H1038.4" stroke="rgba(255,255,255,0.15)" stroke-width="0.800"/><path d="M892.3 76.4V143.4" stroke="rgba(255,255,255,0.15)" stroke-width="0.800"/><path d="M948.1 76.4V143.4" stroke="rgba(255,255,255,0.15)" stroke-width="0.800"/><path d="M1004.0 76.4V143.4" stroke="rgba(255,255,255,0.15)" stroke-width="0.800"/><g clip-path="url(#cISO14)"><polyline points="871.7,136.2 874.5,136.2 875.2,120.0 875.7,104.6 876.4,108.1 876.9,111.0 877.6,107.7 878.1,105.8 878.8,122.4 879.3,136.2 880.7,136.2 881.2,124.8 881.6,112.9 882.3,106.2 882.8,102.2 883.5,107.2 884.0,111.0 884.7,106.2 885.2,103.4 885.9,106.2 886.4,108.6 887.1,105.3 887.6,102.9 888.5,108.1 889.2,111.9 889.9,113.8 890.7,115.3 891.4,109.6 891.8,105.8 892.6,104.3 893.0,103.4 894.0,106.2 894.7,108.1 895.4,105.8 895.9,104.6 896.4,112.9 896.6,120.5 897.3,112.9 897.8,106.9 898.7,109.8 899.4,111.9 900.2,107.2 900.6,103.4 901.3,111.9 901.8,119.1 902.5,112.9 903.0,107.7 903.7,113.4 904.2,118.1 904.9,109.6 905.4,102.9 906.1,106.2 906.8,109.3 907.8,114.3 908.9,119.1 912.5,117.2 917.3,114.8 921.5,112.6 924.4,111.2 925.1,124.8 925.6,135.7 927.9,135.7 928.7,120.0 929.1,107.7 930.1,106.7 931.0,106.2 932.0,112.9 932.7,117.9 933.6,108.6 934.4,102.2 935.1,111.5 935.8,119.1 936.5,110.0 937.0,103.4 937.7,106.2 938.2,108.4 939.1,106.2 939.8,104.6 940.5,111.9 941.0,117.9 941.7,111.7 942.2,106.9 943.1,102.4 943.9,99.1 944.6,102.2 945.3,104.8 946.2,105.0 947.0,105.3 947.9,101.0 948.6,98.2 949.6,95.1 950.5,92.7 951.2,91.3 951.7,90.3 952.7,91.0 953.4,91.5 954.1,89.6 954.8,87.9 955.3,92.0 955.7,95.3 956.5,89.6 957.2,85.6 957.9,88.2 958.4,90.6 959.1,96.7 959.5,101.2 960.5,95.8 961.2,91.5 961.9,87.7 962.4,84.9 963.3,86.5 964.1,87.9 964.8,89.8 965.2,91.5 966.0,92.7 966.7,93.9 967.6,97.2 968.3,99.8 969.0,101.7 969.5,103.4 970.2,100.8 970.7,98.6 971.4,102.0 971.9,104.8 972.8,101.5 973.8,99.1 974.7,100.8 975.5,102.2 976.2,110.5 976.6,116.7 977.4,117.2 977.8,117.6 978.5,111.5 979.0,106.9 979.7,113.8 980.2,119.1 980.9,111.5 981.4,105.8 982.1,122.4 982.6,136.6 983.3,122.4 983.8,112.9 984.5,113.6 985.0,114.1 985.7,127.1 986.1,136.2 994.5,136.2 995.2,125.9 995.6,118.8 996.4,118.1 996.8,117.6 997.3,107.7 997.5,99.8 998.0,120.0 998.5,135.7 999.2,115.3 999.9,99.8 1000.4,120.0 1000.9,136.2 1002.3,136.2 1002.8,115.3 1003.2,99.8 1004.0,120.0 1004.4,136.2 1012.3,136.2 1013.0,115.3 1013.5,99.8 1014.2,100.5 1014.6,101.0 1015.1,111.7 1015.6,120.0 1016.1,116.2 1016.5,112.9 1017.0,125.9 1017.5,136.2 1018.2,120.0 1018.9,105.8 1019.6,111.0 1020.1,115.3 1020.8,113.8 1021.3,112.9 1021.8,125.9 1022.2,136.2 1023.0,120.0 1023.7,106.9 1024.4,122.4 1024.9,136.2 1025.6,124.8 1026.0,115.3 1026.5,107.7 1027.0,101.0 1027.7,120.0 1028.2,136.2 1028.9,127.1 1029.4,120.0 1030.1,129.0 1030.8,136.2 1032.5,136.2 1033.2,127.1 1033.6,119.5 1034.4,128.6 1034.8,136.2 1037.9,136.2" fill="none" stroke="#86b374" stroke-width="1" stroke-linejoin="round" stroke-opacity="0.92"/></g><path d="M870.9 109.3H1038.4" stroke="#c9473a" stroke-width="1.300"/><path d="M956.5 76.4V143.4" stroke="#ee6a2c" stroke-width="0.900" stroke-dasharray="2 1.500" stroke-opacity="0.9"/><path d="M952.9 148.0L956.5 144.1L960.1 148.0Z" fill="#ee6a2c"/><path d="M978.3 76.4V143.4" stroke="#ee6a2c" stroke-width="0.900" stroke-dasharray="2 1.500" stroke-opacity="0.9"/><path d="M974.7 148.0L978.3 144.1L981.9 148.0Z" fill="#ee6a2c"/><path d="M980.0 76.4V143.4" stroke="#e2a93a" stroke-width="0.900" stroke-dasharray="2 1.500" stroke-opacity="0.9"/><path d="M976.4 148.0L980.0 144.1L983.6 148.0Z" fill="#e2a93a"/><path d="M981.9 76.4V143.4" stroke="#ee6a2c" stroke-width="0.900" stroke-dasharray="2 1.500" stroke-opacity="0.9"/><path d="M978.3 148.0L981.9 144.1L985.5 148.0Z" fill="#ee6a2c"/><path d="M984.2 76.4V143.4" stroke="#3fdc52" stroke-width="0.900" stroke-dasharray="2 1.500" stroke-opacity="0.9"/><path d="M980.6 148.0L984.2 144.1L987.8 148.0Z" fill="#3fdc52"/><path d="M999.2 76.4V143.4" stroke="#ee6a2c" stroke-width="0.900" stroke-dasharray="2 1.500" stroke-opacity="0.9"/><path d="M995.6 148.0L999.2 144.1L1002.8 148.0Z" fill="#ee6a2c"/><path d="M1001.1 76.4V143.4" stroke="#e2a93a" stroke-width="0.900" stroke-dasharray="2 1.500" stroke-opacity="0.9"/><path d="M997.5 148.0L1001.1 144.1L1004.7 148.0Z" fill="#e2a93a"/><path d="M1002.8 76.4V143.4" stroke="#ee6a2c" stroke-width="0.900" stroke-dasharray="2 1.500" stroke-opacity="0.9"/><path d="M999.2 148.0L1002.8 144.1L1006.4 148.0Z" fill="#ee6a2c"/><path d="M1004.7 76.4V143.4" stroke="#3fdc52" stroke-width="0.900" stroke-dasharray="2 1.500" stroke-opacity="0.9"/><path d="M1001.1 148.0L1004.7 144.1L1008.3 148.0Z" fill="#3fdc52"/><path d="M1015.6 76.4V143.4" stroke="#ee6a2c" stroke-width="0.900" stroke-dasharray="2 1.500" stroke-opacity="0.9"/><path d="M1012.0 148.0L1015.6 144.1L1019.2 148.0Z" fill="#ee6a2c"/><path d="M1017.5 76.4V143.4" stroke="#e2a93a" stroke-width="0.900" stroke-dasharray="2 1.500" stroke-opacity="0.9"/><path d="M1013.9 148.0L1017.5 144.1L1021.1 148.0Z" fill="#e2a93a"/><path d="M1019.6 76.4V143.4" stroke="#ee6a2c" stroke-width="0.900" stroke-dasharray="2 1.500" stroke-opacity="0.9"/><path d="M1016.0 148.0L1019.6 144.1L1023.2 148.0Z" fill="#ee6a2c"/><path d="M1021.8 76.4V143.4" stroke="#3fdc52" stroke-width="0.900" stroke-dasharray="2 1.500" stroke-opacity="0.9"/><path d="M1018.2 148.0L1021.8 144.1L1025.4 148.0Z" fill="#3fdc52"/><path d="M1025.3 76.4V143.4" stroke="#ee6a2c" stroke-width="0.900" stroke-dasharray="2 1.500" stroke-opacity="0.9"/><path d="M1021.7 148.0L1025.3 144.1L1028.9 148.0Z" fill="#ee6a2c"/><path d="M1027.0 76.4V143.4" stroke="#3fdc52" stroke-width="0.900" stroke-dasharray="2 1.500" stroke-opacity="0.9"/><path d="M1023.4 148.0L1027.0 144.1L1030.6 148.0Z" fill="#3fdc52"/><path d="M1028.9 76.4V143.4" stroke="#3fdc52" stroke-width="0.900" stroke-dasharray="2 1.500" stroke-opacity="0.9"/><path d="M1025.3 148.0L1028.9 144.1L1032.5 148.0Z" fill="#3fdc52"/><text x="867.5" y="78.4" text-anchor="end" font-size="7.7" font-weight="bold" fill="#dcdcdd" stroke="#dcdcdd" stroke-width="0.08" letter-spacing="-0.15">25</text><text x="867.5" y="95.2" text-anchor="end" font-size="7.7" font-weight="bold" fill="#dcdcdd" stroke="#dcdcdd" stroke-width="0.08" letter-spacing="-0.15">20</text><text x="867.5" y="111.9" text-anchor="end" font-size="7.7" font-weight="bold" fill="#dcdcdd" stroke="#dcdcdd" stroke-width="0.08" letter-spacing="-0.15">15</text><text x="867.5" y="128.7" text-anchor="end" font-size="7.7" font-weight="bold" fill="#dcdcdd" stroke="#dcdcdd" stroke-width="0.08" letter-spacing="-0.15">10</text><text x="867.5" y="145.4" text-anchor="end" font-size="7.7" font-weight="bold" fill="#dcdcdd" stroke="#dcdcdd" stroke-width="0.08" letter-spacing="-0.15">5</text><text x="883.6" y="159.4" font-size="7.7" font-weight="bold" fill="#dcdcdd" stroke="#dcdcdd" stroke-width="0.08" textLength="17.4" lengthAdjust="spacingAndGlyphs">10:00</text><text x="939.4" y="159.4" font-size="7.7" font-weight="bold" fill="#dcdcdd" stroke="#dcdcdd" stroke-width="0.08" textLength="17.4" lengthAdjust="spacingAndGlyphs">12:00</text><text x="995.3" y="159.4" font-size="7.7" font-weight="bold" fill="#dcdcdd" stroke="#dcdcdd" stroke-width="0.08" textLength="17.4" lengthAdjust="spacingAndGlyphs">14:00</text><text x="945.8" y="62.9" font-size="9.9" font-weight="bold" fill="#ececec" stroke="#ececec" stroke-width="0.150" textLength="25.6" lengthAdjust="spacingAndGlyphs">ISO 14</text><path transform="translate(934.0 56.4) scale(0.51)" d="M8 14.500C2 10 0 7 0 4.200 0 1.800 1.800 0 4 0c1.600 0 3 .900 4 2.300C9 .900 10.400 0 12 0c2.200 0 4 1.800 4 4.200 0 2.800-2 5.800-8 10.300z" fill="#2aa647"/><g clip-path="url(#cISO14p)"><rect x="866.4" y="172.3" width="8" height="2" rx="1" fill="#86b374"/><text x="876.4" y="176.0" font-size="7.7" font-weight="bold" fill="#dcdcdd" stroke="#dcdcdd" stroke-width="0.08" textLength="11.4" lengthAdjust="spacingAndGlyphs">ISO</text><text x="891.8" y="176.0" font-size="7.7" font-weight="bold" fill="#dcdcdd" stroke="#dcdcdd" stroke-width="0.08" textLength="30.2" lengthAdjust="spacingAndGlyphs">Min: 7.00</text><text x="925.6" y="176.0" font-size="7.7" font-weight="bold" fill="#dcdcdd" stroke="#dcdcdd" stroke-width="0.08" textLength="36.1" lengthAdjust="spacingAndGlyphs">Max: 22.53</text><text x="965.5" y="176.0" font-size="7.7" font-weight="bold" fill="#dcdcdd" stroke="#dcdcdd" stroke-width="0.08" textLength="34.4" lengthAdjust="spacingAndGlyphs">Avg: 13.39</text><text x="1004.0" y="176.0" font-size="7.7" font-weight="bold" fill="#dcdcdd" stroke="#dcdcdd" stroke-width="0.08" textLength="41.6" lengthAdjust="spacingAndGlyphs">Current: 7.00</text></g></svg>
<div class="panel" style="left:432.3px;top:191.5px;width:202.2px;height:132.4px"></div>
<svg style="left:0;top:0" width="1064" height="615" viewBox="0 0 1064 615"><defs><clipPath id="cISO21"><rect x="457.7" y="215.4" width="161.00000000000006" height="68.49999999999997"/></clipPath><clipPath id="cISO21p"><rect x="432.3" y="191.5" width="196.7" height="132.4"/></clipPath></defs><g clip-path="url(#cISO21)"><polygon points="457.7,283.4 457.7,276.7 478.6,276.7 479.1,257.3 479.3,250.1 480.3,250.1 480.7,243.0 481.2,240.2 481.7,257.3 482.2,276.7 525.4,276.7 526.1,257.3 526.6,241.8 527.3,243.5 527.8,244.2 528.5,243.5 529.0,243.0 529.7,262.0 530.1,276.7 533.2,276.7 533.7,252.5 534.2,228.8 534.9,254.9 535.4,276.7 536.8,276.7 537.3,247.8 537.7,222.8 538.2,226.4 538.7,229.2 539.2,225.9 539.6,224.0 540.4,228.3 540.8,231.1 541.3,228.8 541.5,227.6 542.3,254.9 542.7,276.7 543.9,276.7 544.4,259.6 544.6,247.8 545.1,262.0 545.6,276.7 545.8,262.0 546.1,247.8 546.5,262.0 547.0,276.7 547.5,262.0 548.0,247.8 548.4,262.0 548.9,276.7 549.4,262.0 549.9,247.3 550.3,262.0 550.8,276.7 551.3,262.0 551.8,248.2 552.2,248.7 552.7,248.9 553.2,264.4 553.7,276.7 555.8,276.7 556.3,257.3 556.5,242.5 557.2,246.3 557.7,248.9 558.2,246.3 558.6,244.2 559.4,245.6 559.8,246.6 560.3,264.4 560.5,276.7 580.0,276.7 580.5,259.6 580.7,248.9 581.7,248.9 582.2,264.4 582.4,276.7 583.6,276.7 584.1,257.3 584.5,238.7 585.0,257.3 585.5,276.7 599.5,276.7 600.0,257.3 600.2,243.5 600.7,259.6 601.2,276.7 618.7,276.7 618.7,283.4" fill="rgba(126,178,109,0.115)"/></g><path d="M457.7 216.4H618.7" stroke="rgba(255,255,255,0.15)" stroke-width="0.800"/><path d="M457.7 233.2H618.7" stroke="rgba(255,255,255,0.15)" stroke-width="0.800"/><path d="M457.7 249.9H618.7" stroke="rgba(255,255,255,0.15)" stroke-width="0.800"/><path d="M457.7 266.6H618.7" stroke="rgba(255,255,255,0.15)" stroke-width="0.800"/><path d="M457.7 283.4H618.7" stroke="rgba(255,255,255,0.15)" stroke-width="0.800"/><path d="M477.2 216.4V283.4" stroke="rgba(255,255,255,0.15)" stroke-width="0.800"/><path d="M531.3 216.4V283.4" stroke="rgba(255,255,255,0.15)" stroke-width="0.800"/><path d="M584.8 216.4V283.4" stroke="rgba(255,255,255,0.15)" stroke-width="0.800"/><g clip-path="url(#cISO21)"><polyline points="457.7,276.7 478.6,276.7 479.1,257.3 479.3,250.1 480.3,250.1 480.7,243.0 481.2,240.2 481.7,257.3 482.2,276.7 525.4,276.7 526.1,257.3 526.6,241.8 527.3,243.5 527.8,244.2 528.5,243.5 529.0,243.0 529.7,262.0 530.1,276.7 533.2,276.7 533.7,252.5 534.2,228.8 534.9,254.9 535.4,276.7 536.8,276.7 537.3,247.8 537.7,222.8 538.2,226.4 538.7,229.2 539.2,225.9 539.6,224.0 540.4,228.3 540.8,231.1 541.3,228.8 541.5,227.6 542.3,254.9 542.7,276.7 543.9,276.7 544.4,259.6 544.6,247.8 545.1,262.0 545.6,276.7 545.8,262.0 546.1,247.8 546.5,262.0 547.0,276.7 547.5,262.0 548.0,247.8 548.4,262.0 548.9,276.7 549.4,262.0 549.9,247.3 550.3,262.0 550.8,276.7 551.3,262.0 551.8,248.2 552.2,248.7 552.7,248.9 553.2,264.4 553.7,276.7 555.8,276.7 556.3,257.3 556.5,242.5 557.2,246.3 557.7,248.9 558.2,246.3 558.6,244.2 559.4,245.6 559.8,246.6 560.3,264.4 560.5,276.7 580.0,276.7 580.5,259.6 580.7,248.9 581.7,248.9 582.2,264.4 582.4,276.7 583.6,276.7 584.1,257.3 584.5,238.7 585.0,257.3 585.5,276.7 599.5,276.7 600.0,257.3 600.2,243.5 600.7,259.6 601.2,276.7 618.7,276.7" fill="none" stroke="#86b374" stroke-width="1" stroke-linejoin="round" stroke-opacity="0.92"/></g><path d="M539.2 216.4V283.4" stroke="#3fdc52" stroke-width="0.900" stroke-dasharray="2 1.500" stroke-opacity="0.9"/><path d="M535.6 288.0L539.2 284.1L542.8 288.0Z" fill="#3fdc52"/><path d="M557.4 288.0L561.0 284.1L564.6 288.0Z" fill="#9a9a9e"/><text x="454.3" y="218.4" text-anchor="end" font-size="7.7" font-weight="bold" fill="#dcdcdd" stroke="#dcdcdd" stroke-width="0.08" letter-spacing="-0.15">15.0</text><text x="454.3" y="235.2" text-anchor="end" font-size="7.7" font-weight="bold" fill="#dcdcdd" stroke="#dcdcdd" stroke-width="0.08" letter-spacing="-0.15">12.5</text><text x="454.3" y="251.9" text-anchor="end" font-size="7.7" font-weight="bold" fill="#dcdcdd" stroke="#dcdcdd" stroke-width="0.08" letter-spacing="-0.15">10.0</text><text x="454.3" y="268.6" text-anchor="end" font-size="7.7" font-weight="bold" fill="#dcdcdd" stroke="#dcdcdd" stroke-width="0.08" letter-spacing="-0.15">7.5</text><text x="454.3" y="285.4" text-anchor="end" font-size="7.7" font-weight="bold" fill="#dcdcdd" stroke="#dcdcdd" stroke-width="0.08" letter-spacing="-0.15">5.0</text><text x="468.5" y="300.0" font-size="7.7" font-weight="bold" fill="#dcdcdd" stroke="#dcdcdd" stroke-width="0.08" textLength="17.4" lengthAdjust="spacingAndGlyphs">10:00</text><text x="522.6" y="300.0" font-size="7.7" font-weight="bold" fill="#dcdcdd" stroke="#dcdcdd" stroke-width="0.08" textLength="17.4" lengthAdjust="spacingAndGlyphs">12:00</text><text x="576.1" y="300.0" font-size="7.7" font-weight="bold" fill="#dcdcdd" stroke="#dcdcdd" stroke-width="0.08" textLength="17.4" lengthAdjust="spacingAndGlyphs">14:00</text><text x="525.9" y="203.5" font-size="9.9" font-weight="bold" fill="#ececec" stroke="#ececec" stroke-width="0.150" textLength="25.1" lengthAdjust="spacingAndGlyphs">ISO 21</text><path transform="translate(513.6 197.0) scale(0.51)" d="M8 14.500C2 10 0 7 0 4.200 0 1.800 1.800 0 4 0c1.600 0 3 .900 4 2.300C9 .900 10.400 0 12 0c2.200 0 4 1.800 4 4.200 0 2.800-2 5.800-8 10.300z" fill="#2aa647"/><g clip-path="url(#cISO21p)"><rect x="446.1" y="312.8" width="8" height="2" rx="1" fill="#86b374"/><text x="456.0" y="316.5" font-size="7.7" font-weight="bold" fill="#dcdcdd" stroke="#dcdcdd" stroke-width="0.08" textLength="11.4" lengthAdjust="spacingAndGlyphs">ISO</text><text x="471.5" y="316.5" font-size="7.7" font-weight="bold" fill="#dcdcdd" stroke="#dcdcdd" stroke-width="0.08" textLength="30.2" lengthAdjust="spacingAndGlyphs">Min: 6.00</text><text x="505.2" y="316.5" font-size="7.7" font-weight="bold" fill="#dcdcdd" stroke="#dcdcdd" stroke-width="0.08" textLength="36.3" lengthAdjust="spacingAndGlyphs">Max: 14.14</text><text x="545.1" y="316.5" font-size="7.7" font-weight="bold" fill="#dcdcdd" stroke="#dcdcdd" stroke-width="0.08" textLength="30.6" lengthAdjust="spacingAndGlyphs">Avg: 6.75</text></g></svg>
<div class="panel" style="left:642.9px;top:191.6px;width:202.3px;height:132.3px"></div>
<svg style="left:0;top:0" width="1064" height="615" viewBox="0 0 1064 615"><defs><clipPath id="cISO38"><rect x="668.5" y="215.4" width="160.39999999999998" height="68.49999999999997"/></clipPath><clipPath id="cISO38p"><rect x="642.9" y="191.6" width="196.8" height="132.3"/></clipPath></defs><g clip-path="url(#cISO38)"><polygon points="668.5,283.4 668.5,259.9 742.9,259.9 743.6,240.6 744.1,221.6 745.3,221.6 745.7,240.6 746.2,259.9 828.9,259.9 828.9,283.4" fill="rgba(126,178,109,0.115)"/></g><path d="M668.5 216.4H828.9" stroke="rgba(255,255,255,0.15)" stroke-width="0.800"/><path d="M668.5 233.2H828.9" stroke="rgba(255,255,255,0.15)" stroke-width="0.800"/><path d="M668.5 249.9H828.9" stroke="rgba(255,255,255,0.15)" stroke-width="0.800"/><path d="M668.5 266.6H828.9" stroke="rgba(255,255,255,0.15)" stroke-width="0.800"/><path d="M668.5 283.4H828.9" stroke="rgba(255,255,255,0.15)" stroke-width="0.800"/><path d="M687.8 216.4V283.4" stroke="rgba(255,255,255,0.15)" stroke-width="0.800"/><path d="M741.7 216.4V283.4" stroke="rgba(255,255,255,0.15)" stroke-width="0.800"/><path d="M795.1 216.4V283.4" stroke="rgba(255,255,255,0.15)" stroke-width="0.800"/><g clip-path="url(#cISO38)"><polyline points="668.5,259.9 742.9,259.9 743.6,240.6 744.1,221.6 745.3,221.6 745.7,240.6 746.2,259.9 828.9,259.9" fill="none" stroke="#86b374" stroke-width="1" stroke-linejoin="round" stroke-opacity="0.92"/></g><path d="M749.5 216.4V283.4" stroke="#3fdc52" stroke-width="0.900" stroke-dasharray="2 1.500" stroke-opacity="0.9"/><path d="M745.9 288.0L749.5 284.1L753.1 288.0Z" fill="#3fdc52"/><path d="M768.0 288.0L771.6 284.1L775.2 288.0Z" fill="#9a9a9e"/><path d="M774.5 216.4V283.4" stroke="#9a9a9e" stroke-width="0.900" stroke-dasharray="2 1.500" stroke-opacity="0.9"/><path d="M770.9 288.0L774.5 284.1L778.1 288.0Z" fill="#9a9a9e"/><text x="665.1" y="218.4" text-anchor="end" font-size="7.7" font-weight="bold" fill="#dcdcdd" stroke="#dcdcdd" stroke-width="0.08" letter-spacing="-0.15">12.5</text><text x="665.1" y="235.2" text-anchor="end" font-size="7.7" font-weight="bold" fill="#dcdcdd" stroke="#dcdcdd" stroke-width="0.08" letter-spacing="-0.15">10.0</text><text x="665.1" y="251.9" text-anchor="end" font-size="7.7" font-weight="bold" fill="#dcdcdd" stroke="#dcdcdd" stroke-width="0.08" letter-spacing="-0.15">7.5</text><text x="665.1" y="268.6" text-anchor="end" font-size="7.7" font-weight="bold" fill="#dcdcdd" stroke="#dcdcdd" stroke-width="0.08" letter-spacing="-0.15">5.0</text><text x="665.1" y="285.4" text-anchor="end" font-size="7.7" font-weight="bold" fill="#dcdcdd" stroke="#dcdcdd" stroke-width="0.08" letter-spacing="-0.15">2.5</text><text x="679.1" y="300.0" font-size="7.7" font-weight="bold" fill="#dcdcdd" stroke="#dcdcdd" stroke-width="0.08" textLength="17.4" lengthAdjust="spacingAndGlyphs">10:00</text><text x="733.0" y="300.0" font-size="7.7" font-weight="bold" fill="#dcdcdd" stroke="#dcdcdd" stroke-width="0.08" textLength="17.4" lengthAdjust="spacingAndGlyphs">12:00</text><text x="786.4" y="300.0" font-size="7.7" font-weight="bold" fill="#dcdcdd" stroke="#dcdcdd" stroke-width="0.08" textLength="17.4" lengthAdjust="spacingAndGlyphs">14:00</text><text x="736.2" y="203.5" font-size="9.9" font-weight="bold" fill="#ececec" stroke="#ececec" stroke-width="0.150" textLength="25.7" lengthAdjust="spacingAndGlyphs">ISO 38</text><path transform="translate(724.4 197.0) scale(0.51)" d="M8 14.500C2 10 0 7 0 4.200 0 1.800 1.800 0 4 0c1.600 0 3 .900 4 2.300C9 .900 10.400 0 12 0c2.200 0 4 1.800 4 4.200 0 2.800-2 5.800-8 10.300z" fill="#2aa647"/><g clip-path="url(#cISO38p)"><rect x="656.4" y="312.8" width="8" height="2" rx="1" fill="#86b374"/><text x="666.9" y="316.5" font-size="7.7" font-weight="bold" fill="#dcdcdd" stroke="#dcdcdd" stroke-width="0.08" textLength="11.4" lengthAdjust="spacingAndGlyphs">ISO</text><text x="681.8" y="316.5" font-size="7.7" font-weight="bold" fill="#dcdcdd" stroke="#dcdcdd" stroke-width="0.08" textLength="30.2" lengthAdjust="spacingAndGlyphs">Min: 6.00</text><text x="716.0" y="316.5" font-size="7.7" font-weight="bold" fill="#dcdcdd" stroke="#dcdcdd" stroke-width="0.08" textLength="35.9" lengthAdjust="spacingAndGlyphs">Max: 11.80</text><text x="756.0" y="316.5" font-size="7.7" font-weight="bold" fill="#dcdcdd" stroke="#dcdcdd" stroke-width="0.08" textLength="30.2" lengthAdjust="spacingAndGlyphs">Avg: 6.03</text><text x="789.9" y="316.5" font-size="7.7" font-weight="bold" fill="#dcdcdd" stroke="#dcdcdd" stroke-width="0.08" textLength="42.0" lengthAdjust="spacingAndGlyphs">Current: 6.00</text></g></svg>
<div class="panel" style="left:852.9px;top:191.8px;width:202.4px;height:132.1px"></div>
<svg style="left:0;top:0" width="1064" height="615" viewBox="0 0 1064 615"><defs><clipPath id="cISO70"><rect x="868.6" y="215.4" width="169.80000000000007" height="68.49999999999997"/></clipPath><clipPath id="cISO70p"><rect x="852.9" y="191.8" width="196.9" height="132.1"/></clipPath></defs><g clip-path="url(#cISO70)"><polygon points="868.6,283.4 868.6,249.9 1038.4,249.9 1038.4,283.4" fill="rgba(126,178,109,0.115)"/></g><path d="M868.6 216.4H1038.4" stroke="rgba(255,255,255,0.15)" stroke-width="0.800"/><path d="M868.6 233.2H1038.4" stroke="rgba(255,255,255,0.15)" stroke-width="0.800"/><path d="M868.6 249.9H1038.4" stroke="rgba(255,255,255,0.15)" stroke-width="0.800"/><path d="M868.6 266.6H1038.4" stroke="rgba(255,255,255,0.15)" stroke-width="0.800"/><path d="M868.6 283.4H1038.4" stroke="rgba(255,255,255,0.15)" stroke-width="0.800"/><path d="M889.5 216.4V283.4" stroke="rgba(255,255,255,0.15)" stroke-width="0.800"/><path d="M946.5 216.4V283.4" stroke="rgba(255,255,255,0.15)" stroke-width="0.800"/><path d="M1002.8 216.4V283.4" stroke="rgba(255,255,255,0.15)" stroke-width="0.800"/><g clip-path="url(#cISO70)"><polyline points="868.6,249.9 1038.4,249.9" fill="none" stroke="#86b374" stroke-width="1" stroke-linejoin="round" stroke-opacity="0.92"/></g><path d="M954.8 216.4V283.4" stroke="#3fdc52" stroke-width="0.900" stroke-dasharray="2 1.500" stroke-opacity="0.9"/><path d="M951.2 288.0L954.8 284.1L958.4 288.0Z" fill="#3fdc52"/><path d="M978.1 216.4V283.4" stroke="#9a9a9e" stroke-width="0.900" stroke-dasharray="2 1.500" stroke-opacity="0.9"/><path d="M974.5 288.0L978.1 284.1L981.7 288.0Z" fill="#9a9a9e"/><text x="865.2" y="218.4" text-anchor="end" font-size="7.7" font-weight="bold" fill="#dcdcdd" stroke="#dcdcdd" stroke-width="0.08" letter-spacing="-0.15">8</text><text x="865.2" y="235.2" text-anchor="end" font-size="7.7" font-weight="bold" fill="#dcdcdd" stroke="#dcdcdd" stroke-width="0.08" letter-spacing="-0.15">7</text><text x="865.2" y="251.9" text-anchor="end" font-size="7.7" font-weight="bold" fill="#dcdcdd" stroke="#dcdcdd" stroke-width="0.08" letter-spacing="-0.15">6</text><text x="865.2" y="268.6" text-anchor="end" font-size="7.7" font-weight="bold" fill="#dcdcdd" stroke="#dcdcdd" stroke-width="0.08" letter-spacing="-0.15">5</text><text x="865.2" y="285.4" text-anchor="end" font-size="7.7" font-weight="bold" fill="#dcdcdd" stroke="#dcdcdd" stroke-width="0.08" letter-spacing="-0.15">4</text><text x="880.8" y="300.0" font-size="7.7" font-weight="bold" fill="#dcdcdd" stroke="#dcdcdd" stroke-width="0.08" textLength="17.4" lengthAdjust="spacingAndGlyphs">10:00</text><text x="937.8" y="300.0" font-size="7.7" font-weight="bold" fill="#dcdcdd" stroke="#dcdcdd" stroke-width="0.08" textLength="17.4" lengthAdjust="spacingAndGlyphs">12:00</text><text x="994.1" y="300.0" font-size="7.7" font-weight="bold" fill="#dcdcdd" stroke="#dcdcdd" stroke-width="0.08" textLength="17.4" lengthAdjust="spacingAndGlyphs">14:00</text><text x="945.8" y="203.5" font-size="9.9" font-weight="bold" fill="#ececec" stroke="#ececec" stroke-width="0.150" textLength="25.6" lengthAdjust="spacingAndGlyphs">ISO 70</text><path transform="translate(934.0 197.0) scale(0.51)" d="M8 14.500C2 10 0 7 0 4.200 0 1.800 1.800 0 4 0c1.600 0 3 .900 4 2.300C9 .900 10.400 0 12 0c2.200 0 4 1.800 4 4.200 0 2.800-2 5.800-8 10.300z" fill="#2aa647"/><g clip-path="url(#cISO70p)"><rect x="866.4" y="312.8" width="8" height="2" rx="1" fill="#86b374"/><text x="876.4" y="316.5" font-size="7.7" font-weight="bold" fill="#dcdcdd" stroke="#dcdcdd" stroke-width="0.08" textLength="11.4" lengthAdjust="spacingAndGlyphs">ISO</text><text x="891.8" y="316.5" font-size="7.7" font-weight="bold" fill="#dcdcdd" stroke="#dcdcdd" stroke-width="0.08" textLength="34.0" lengthAdjust="spacingAndGlyphs">Min: 6.000</text><text x="929.6" y="316.5" font-size="7.7" font-weight="bold" fill="#dcdcdd" stroke="#dcdcdd" stroke-width="0.08" textLength="35.9" lengthAdjust="spacingAndGlyphs">Max: 6.000</text><text x="970.0" y="316.5" font-size="7.7" font-weight="bold" fill="#dcdcdd" stroke="#dcdcdd" stroke-width="0.08" textLength="33.5" lengthAdjust="spacingAndGlyphs">Avg: 6.000</text><text x="1008.0" y="316.5" font-size="7.7" font-weight="bold" fill="#dcdcdd" stroke="#dcdcdd" stroke-width="0.08" textLength="45.1" lengthAdjust="spacingAndGlyphs">Current: 6.000</text></g></svg>
<div class="panel" style="left:432.4px;top:473.3px;width:202.1px;height:142px"></div>
<svg style="left:0;top:0" width="1064" height="615" viewBox="0 0 1064 615"><defs><clipPath id="cOD"><rect x="454.3" y="496.5" width="164.49999999999994" height="101.20000000000005"/></clipPath><clipPath id="cODp"><rect x="432.4" y="473.3" width="196.6" height="142"/></clipPath></defs><g clip-path="url(#cOD)"><polygon points="454.3,597.2 454.3,597.2 523.6,597.2 524.3,564.6 524.9,531.1 525.6,564.6 526.2,597.2 585.9,597.2 586.6,564.6 587.2,531.1 587.9,564.6 588.8,597.2 618.8,597.2 618.8,597.2" fill="rgba(126,178,109,0.115)"/></g><path d="M454.3 497.5H618.8" stroke="rgba(255,255,255,0.15)" stroke-width="0.800"/><path d="M454.3 530.7H618.8" stroke="rgba(255,255,255,0.15)" stroke-width="0.800"/><path d="M454.3 564.0H618.8" stroke="rgba(255,255,255,0.15)" stroke-width="0.800"/><path d="M454.3 597.2H618.8" stroke="rgba(255,255,255,0.15)" stroke-width="0.800"/><path d="M474.1 497.5V597.2" stroke="rgba(255,255,255,0.15)" stroke-width="0.800"/><path d="M529.4 497.5V597.2" stroke="rgba(255,255,255,0.15)" stroke-width="0.800"/><path d="M584.3 497.5V597.2" stroke="rgba(255,255,255,0.15)" stroke-width="0.800"/><g clip-path="url(#cOD)"><polyline points="454.3,597.2 523.6,597.2 524.3,564.6 524.9,531.1 525.6,564.6 526.2,597.2 585.9,597.2 586.6,564.6 587.2,531.1 587.9,564.6 588.8,597.2 618.8,597.2" fill="none" stroke="#86b374" stroke-width="1" stroke-linejoin="round" stroke-opacity="0.92"/></g><text x="450.9" y="499.5" text-anchor="end" font-size="7.7" font-weight="bold" fill="#dcdcdd" stroke="#dcdcdd" stroke-width="0.08" letter-spacing="-0.15">1.5</text><text x="450.9" y="532.7" text-anchor="end" font-size="7.7" font-weight="bold" fill="#dcdcdd" stroke="#dcdcdd" stroke-width="0.08" letter-spacing="-0.15">1.0</text><text x="450.9" y="566.0" text-anchor="end" font-size="7.7" font-weight="bold" fill="#dcdcdd" stroke="#dcdcdd" stroke-width="0.08" letter-spacing="-0.15">0.5</text><text x="450.9" y="599.2" text-anchor="end" font-size="7.7" font-weight="bold" fill="#dcdcdd" stroke="#dcdcdd" stroke-width="0.08" letter-spacing="-0.15">0</text><text x="465.4" y="608.8" font-size="7.7" font-weight="bold" fill="#dcdcdd" stroke="#dcdcdd" stroke-width="0.08" textLength="17.4" lengthAdjust="spacingAndGlyphs">10:00</text><text x="520.7" y="608.8" font-size="7.7" font-weight="bold" fill="#dcdcdd" stroke="#dcdcdd" stroke-width="0.08" textLength="17.4" lengthAdjust="spacingAndGlyphs">12:00</text><text x="575.6" y="608.8" font-size="7.7" font-weight="bold" fill="#dcdcdd" stroke="#dcdcdd" stroke-width="0.08" textLength="17.4" lengthAdjust="spacingAndGlyphs">14:00</text><text x="527.5" y="484.9" font-size="9.9" font-weight="bold" fill="#ececec" stroke="#ececec" stroke-width="0.150" textLength="11.5" lengthAdjust="spacingAndGlyphs">OD</text></svg>
<div class="panel" style="left:54.300px;top:444.800px;width:243.400px;height:19px"></div>
<div class="t" style="left:176.3px;top:449.00px;font-size:9.9px;font-weight:bold;color:#ececec;transform:translateX(-50%) scaleX(0.8038);transform-origin:50% 50%;-webkit-text-stroke-width:0.150px">MORFOLOGÍA PARTÍCULAS POR 1ml</div>
<div class="panel" style="left:307.200px;top:444.800px;width:327.300px;height:19px"></div>
<div class="t" style="left:469.9px;top:449.00px;font-size:9.9px;font-weight:bold;color:#ececec;transform:translateX(-50%) scaleX(0.7970);transform-origin:50% 50%;-webkit-text-stroke-width:0.150px">DEGRADACIÓN (OD)</div>
<div class="panel" style="left:54.300px;top:473px;width:243.400px;height:142px"></div>
<svg style="left:0;top:0" width="1064" height="615" viewBox="0 0 1064 615"><circle cx="100.4" cy="533.3" r="33.1" fill="#14161a"/><path d="M100.4 500.9A32.4 32.4 0 0 1 100.4 565.6999999999999Z" fill="#cffaff"/><path d="M100.4 500.9A32.4 32.4 0 0 0 100.4 565.6999999999999Z" fill="#052b51"/><path d="M100.4 500.9V565.6999999999999" stroke="#0d1a2b" stroke-width="0.700"/></svg>
<div class="t" style="left:227.8px;top:497.00px;font-size:8.6px;font-weight:bold;color:#33b5e5;transform:translateX(-100%) scaleX(0.8167);transform-origin:100% 50%;-webkit-text-stroke-width:0.150px">current</div>
<div class="t" style="left:272.5px;top:497.00px;font-size:8.6px;font-weight:bold;color:#33b5e5;transform:translateX(-100%) scaleX(0.8194);transform-origin:100% 50%;-webkit-text-stroke-width:0.150px">percentage</div>
<div class="abs" style="left:149.600px;top:512.1px;width:7.400px;height:2.400px;background:#7eb26d;border-radius:1px"></div>
<div class="t" style="left:161.8px;top:509.00px;font-size:8.4px;font-weight:bold;color:#e0e0e0;transform:scaleX(0.7880);transform-origin:0 50%;-webkit-text-stroke-width:0.150px">AIR</div>
<div class="t" style="left:227.8px;top:509.00px;font-size:8.4px;font-weight:bold;color:#e0e0e0;transform:translateX(-100%) scaleX(0.8990);transform-origin:100% 50%;-webkit-text-stroke-width:0.150px">0</div>
<div class="t" style="left:271.9px;top:509.00px;font-size:8.4px;font-weight:bold;color:#e0e0e0;transform:translateX(-100%) scaleX(0.8229);transform-origin:100% 50%;-webkit-text-stroke-width:0.150px">0.00%</div>
<div class="abs" style="left:148.200px;top:519.0px;width:130.800px;height:12.5px;background:#272729"></div>
<div class="abs" style="left:149.600px;top:524.6px;width:7.400px;height:2.400px;background:#d9301a;border-radius:1px"></div>
<div class="t" style="left:161.8px;top:521.00px;font-size:8.4px;font-weight:bold;color:#e0e0e0;transform:scaleX(0.8144);transform-origin:0 50%;-webkit-text-stroke-width:0.150px">CUTTING</div>
<div class="t" style="left:227.8px;top:521.00px;font-size:8.4px;font-weight:bold;color:#e0e0e0;transform:translateX(-100%) scaleX(0.8990);transform-origin:100% 50%;-webkit-text-stroke-width:0.150px">0</div>
<div class="t" style="left:271.9px;top:521.00px;font-size:8.4px;font-weight:bold;color:#e0e0e0;transform:translateX(-100%) scaleX(0.8229);transform-origin:100% 50%;-webkit-text-stroke-width:0.150px">0.00%</div>
<div class="abs" style="left:149.600px;top:537.0px;width:7.400px;height:2.400px;background:#eab839;border-radius:1px"></div>
<div class="t" style="left:161.8px;top:534.00px;font-size:8.4px;font-weight:bold;color:#e0e0e0;transform:scaleX(0.7882);transform-origin:0 50%;-webkit-text-stroke-width:0.150px">FATIGUE</div>
<div class="t" style="left:227.8px;top:534.00px;font-size:8.4px;font-weight:bold;color:#e0e0e0;transform:translateX(-100%) scaleX(0.8990);transform-origin:100% 50%;-webkit-text-stroke-width:0.150px">0</div>
<div class="t" style="left:271.9px;top:534.00px;font-size:8.4px;font-weight:bold;color:#e0e0e0;transform:translateX(-100%) scaleX(0.8229);transform-origin:100% 50%;-webkit-text-stroke-width:0.150px">0.00%</div>
<div class="abs" style="left:148.200px;top:543.9px;width:130.800px;height:12.5px;background:#272729"></div>
<div class="abs" style="left:149.600px;top:549.5px;width:7.400px;height:2.400px;background:#cffaff;border-radius:1px"></div>
<div class="t" style="left:161.8px;top:546.00px;font-size:8.4px;font-weight:bold;color:#e0e0e0;transform:scaleX(0.7778);transform-origin:0 50%;-webkit-text-stroke-width:0.150px">FIBER</div>
<div class="t" style="left:227.8px;top:546.00px;font-size:8.4px;font-weight:bold;color:#e0e0e0;transform:translateX(-100%) scaleX(0.8813);transform-origin:100% 50%;-webkit-text-stroke-width:0.150px">0.11</div>
<div class="t" style="left:271.9px;top:546.00px;font-size:8.4px;font-weight:bold;color:#e0e0e0;transform:translateX(-100%) scaleX(0.8283);transform-origin:100% 50%;-webkit-text-stroke-width:0.150px">50.00%</div>
<div class="abs" style="left:149.600px;top:561.9px;width:7.400px;height:2.400px;background:#052b51;border-radius:1px"></div>
<div class="t" style="left:161.8px;top:559.00px;font-size:8.4px;font-weight:bold;color:#e0e0e0;transform:scaleX(0.8013);transform-origin:0 50%;-webkit-text-stroke-width:0.150px">SLIDING</div>
<div class="t" style="left:227.8px;top:559.00px;font-size:8.4px;font-weight:bold;color:#e0e0e0;transform:translateX(-100%) scaleX(0.8813);transform-origin:100% 50%;-webkit-text-stroke-width:0.150px">0.11</div>
<div class="t" style="left:271.9px;top:559.00px;font-size:8.4px;font-weight:bold;color:#e0e0e0;transform:translateX(-100%) scaleX(0.8283);transform-origin:100% 50%;-webkit-text-stroke-width:0.150px">50.00%</div>
<div class="abs" style="left:148.200px;top:568.9px;width:130.800px;height:12.5px;background:#272729"></div>
<div class="abs" style="left:149.600px;top:574.4px;width:7.400px;height:2.400px;background:#3274b8;border-radius:1px"></div>
<div class="t" style="left:161.8px;top:571.00px;font-size:8.4px;font-weight:bold;color:#e0e0e0;transform:scaleX(0.7803);transform-origin:0 50%;-webkit-text-stroke-width:0.150px">UNK</div>
<div class="t" style="left:227.8px;top:571.00px;font-size:8.4px;font-weight:bold;color:#e0e0e0;transform:translateX(-100%) scaleX(0.8990);transform-origin:100% 50%;-webkit-text-stroke-width:0.150px">0</div>
<div class="t" style="left:271.9px;top:571.00px;font-size:8.4px;font-weight:bold;color:#e0e0e0;transform:translateX(-100%) scaleX(0.8229);transform-origin:100% 50%;-webkit-text-stroke-width:0.150px">0.00%</div>
<div class="t" style="left:848.2px;top:336.00px;font-size:9.9px;font-weight:bold;color:#ececec;transform:translateX(-50%) scaleX(0.8246);transform-origin:50% 50%;-webkit-text-stroke-width:0.150px">ÚLTIMA CAPTURA</div>
<svg style="left:691px;top:351.2px" width="313.6" height="248.3" viewBox="0 0 313.6 248.3"><defs><radialGradient id="vg" cx="0.47" cy="0.485" r="0.62" gradientTransform="translate(0.47 0.485) scale(1 1.71) translate(-0.47 -0.485)"><stop offset="0.000" stop-color="rgb(237,237,237)"/><stop offset="0.097" stop-color="rgb(235,235,235)"/><stop offset="0.194" stop-color="rgb(232,232,232)"/><stop offset="0.323" stop-color="rgb(226,226,226)"/><stop offset="0.403" stop-color="rgb(220,220,220)"/><stop offset="0.468" stop-color="rgb(213,213,213)"/><stop offset="0.548" stop-color="rgb(203,203,203)"/><stop offset="0.629" stop-color="rgb(190,190,190)"/><stop offset="0.694" stop-color="rgb(177,177,177)"/><stop offset="0.758" stop-color="rgb(163,163,163)"/><stop offset="0.855" stop-color="rgb(138,138,138)"/><stop offset="0.935" stop-color="rgb(114,114,114)"/><stop offset="1.000" stop-color="rgb(92,92,92)"/></radialGradient><radialGradient id="rg"><stop offset="0" stop-color="#000" stop-opacity="0.025"/><stop offset="0.6" stop-color="#000" stop-opacity="0.04"/><stop offset="0.85" stop-color="#000" stop-opacity="0.05"/><stop offset="1" stop-color="#000" stop-opacity="0"/></radialGradient><filter id="bl" x="-30%" y="-30%" width="160%" height="160%"><feGaussianBlur stdDeviation="0.55"/></filter><filter id="bl3" x="-10%" y="-10%" width="120%" height="120%"><feGaussianBlur stdDeviation="5"/></filter><filter id="bl2" x="-30%" y="-30%" width="160%" height="160%"><feGaussianBlur stdDeviation="1.2"/></filter><clipPath id="ic"><rect width="313.6" height="248.3"/></clipPath></defs><g clip-path="url(#ic)"><rect width="313.6" height="248.3" fill="url(#vg)"/><rect x="-7" y="-7" width="322.6" height="260.8" fill="none" stroke="#000" stroke-opacity="0.22" stroke-width="14" filter="url(#bl3)"/><g filter="url(#bl2)"><circle cx="144.8" cy="29.7" r="10" fill="url(#rg)"/><path d="M141.3 23.2A7.400 7.400 0 0 0 141.3 36.2" fill="none" stroke="#000" stroke-opacity="0.075" stroke-width="1.800"/><circle cx="202.8" cy="48.6" r="10" fill="url(#rg)"/><path d="M199.3 42.1A7.400 7.400 0 0 0 199.3 55.1" fill="none" stroke="#000" stroke-opacity="0.075" stroke-width="1.800"/><circle cx="90.6" cy="59.0" r="10" fill="url(#rg)"/><path d="M87.1 52.5A7.400 7.400 0 0 0 87.1 65.5" fill="none" stroke="#000" stroke-opacity="0.075" stroke-width="1.800"/><circle cx="232.1" cy="105.2" r="10" fill="url(#rg)"/><path d="M228.6 98.7A7.400 7.400 0 0 0 228.6 111.7" fill="none" stroke="#000" stroke-opacity="0.075" stroke-width="1.800"/><circle cx="73.1" cy="120.3" r="10" fill="url(#rg)"/><path d="M69.6 113.8A7.400 7.400 0 0 0 69.6 126.8" fill="none" stroke="#000" stroke-opacity="0.075" stroke-width="1.800"/><circle cx="214.2" cy="166.5" r="10" fill="url(#rg)"/><path d="M210.7 160.0A7.400 7.400 0 0 0 210.7 173.0" fill="none" stroke="#000" stroke-opacity="0.075" stroke-width="1.800"/><circle cx="102.4" cy="177.8" r="10" fill="url(#rg)"/><path d="M98.9 171.3A7.400 7.400 0 0 0 98.9 184.3" fill="none" stroke="#000" stroke-opacity="0.075" stroke-width="1.800"/><circle cx="159.9" cy="195.8" r="10" fill="url(#rg)"/><path d="M156.4 189.3A7.400 7.400 0 0 0 156.4 202.3" fill="none" stroke="#000" stroke-opacity="0.075" stroke-width="1.800"/></g><g filter="url(#bl)"><ellipse cx="6.6" cy="25.0" rx="2.28" ry="1.20" fill="#505050" opacity="0.55" transform="rotate(115 6.6 25.0)"/><ellipse cx="86.8" cy="2.4" rx="1.71" ry="0.90" fill="#505050" opacity="0.55" transform="rotate(143 86.8 2.4)"/><ellipse cx="150.9" cy="69.8" rx="2.09" ry="1.10" fill="#505050" opacity="0.55" transform="rotate(119 150.9 69.8)"/><ellipse cx="183.5" cy="68.4" rx="1.90" ry="1.00" fill="#505050" opacity="0.55" transform="rotate(115 183.5 68.4)"/><ellipse cx="237.7" cy="36.3" rx="2.47" ry="1.30" fill="#505050" opacity="0.55" transform="rotate(130 237.7 36.3)"/><ellipse cx="234.0" cy="49.5" rx="1.71" ry="0.90" fill="#505050" opacity="0.55" transform="rotate(150 234.0 49.5)"/><ellipse cx="258.0" cy="26.9" rx="1.71" ry="0.90" fill="#505050" opacity="0.55" transform="rotate(48 258.0 26.9)"/><ellipse cx="272.6" cy="109.0" rx="1.71" ry="0.90" fill="#505050" opacity="0.55" transform="rotate(47 272.6 109.0)"/><ellipse cx="42.5" cy="125.0" rx="1.90" ry="1.00" fill="#505050" opacity="0.55" transform="rotate(131 42.5 125.0)"/><ellipse cx="73.6" cy="139.2" rx="1.61" ry="0.85" fill="#505050" opacity="0.55" transform="rotate(121 73.6 139.2)"/><ellipse cx="201.4" cy="154.7" rx="1.90" ry="1.00" fill="#505050" opacity="0.55" transform="rotate(161 201.4 154.7)"/><ellipse cx="234.9" cy="136.8" rx="1.71" ry="0.90" fill="#505050" opacity="0.55" transform="rotate(157 234.9 136.8)"/><ellipse cx="237.7" cy="146.2" rx="1.61" ry="0.85" fill="#505050" opacity="0.55" transform="rotate(47 237.7 146.2)"/><ellipse cx="271.2" cy="144.8" rx="1.61" ry="0.85" fill="#505050" opacity="0.55" transform="rotate(24 271.2 144.8)"/><ellipse cx="55.7" cy="197.6" rx="1.71" ry="0.90" fill="#505050" opacity="0.55" transform="rotate(114 55.7 197.6)"/><ellipse cx="163.7" cy="179.2" rx="1.61" ry="0.85" fill="#505050" opacity="0.55" transform="rotate(77 163.7 179.2)"/><ellipse cx="149.1" cy="167.5" rx="1.61" ry="0.85" fill="#505050" opacity="0.55" transform="rotate(36 149.1 167.5)"/><ellipse cx="188.7" cy="184.9" rx="1.52" ry="0.80" fill="#505050" opacity="0.55" transform="rotate(23 188.7 184.9)"/><ellipse cx="76.4" cy="64.6" rx="1.52" ry="0.80" fill="#505050" opacity="0.55" transform="rotate(137 76.4 64.6)"/><ellipse cx="72.6" cy="75.0" rx="1.52" ry="0.80" fill="#505050" opacity="0.55" transform="rotate(177 72.6 75.0)"/><ellipse cx="108.0" cy="66.0" rx="1.52" ry="0.80" fill="#505050" opacity="0.55" transform="rotate(162 108.0 66.0)"/><ellipse cx="117.0" cy="60.4" rx="1.61" ry="0.85" fill="#505050" opacity="0.55" transform="rotate(10 117.0 60.4)"/><ellipse cx="124.5" cy="68.4" rx="1.42" ry="0.75" fill="#505050" opacity="0.55" transform="rotate(152 124.5 68.4)"/><ellipse cx="140.1" cy="66.0" rx="1.52" ry="0.80" fill="#505050" opacity="0.55" transform="rotate(101 140.1 66.0)"/><ellipse cx="225.5" cy="66.5" rx="1.52" ry="0.80" fill="#505050" opacity="0.55" transform="rotate(115 225.5 66.5)"/><ellipse cx="232.1" cy="70.8" rx="1.42" ry="0.75" fill="#505050" opacity="0.55" transform="rotate(167 232.1 70.8)"/><ellipse cx="170.8" cy="94.3" rx="1.42" ry="0.75" fill="#505050" opacity="0.55" transform="rotate(157 170.8 94.3)"/><ellipse cx="160.4" cy="121.2" rx="1.42" ry="0.75" fill="#505050" opacity="0.55" transform="rotate(166 160.4 121.2)"/><ellipse cx="174.5" cy="124.1" rx="1.42" ry="0.75" fill="#505050" opacity="0.55" transform="rotate(40 174.5 124.1)"/><ellipse cx="95.3" cy="132.1" rx="1.52" ry="0.80" fill="#505050" opacity="0.55" transform="rotate(159 95.3 132.1)"/><ellipse cx="76.4" cy="172.2" rx="1.42" ry="0.75" fill="#505050" opacity="0.55" transform="rotate(3 76.4 172.2)"/><ellipse cx="90.6" cy="195.8" rx="1.42" ry="0.75" fill="#505050" opacity="0.55" transform="rotate(135 90.6 195.8)"/><ellipse cx="118.9" cy="202.8" rx="1.33" ry="0.70" fill="#505050" opacity="0.55" transform="rotate(16 118.9 202.8)"/><ellipse cx="146.2" cy="221.7" rx="1.42" ry="0.75" fill="#505050" opacity="0.55" transform="rotate(15 146.2 221.7)"/><ellipse cx="90.6" cy="215.6" rx="1.33" ry="0.70" fill="#505050" opacity="0.55" transform="rotate(9 90.6 215.6)"/><ellipse cx="15.1" cy="125.0" rx="1.42" ry="0.75" fill="#505050" opacity="0.55" transform="rotate(48 15.1 125.0)"/><ellipse cx="35.4" cy="76.9" rx="1.42" ry="0.75" fill="#505050" opacity="0.55" transform="rotate(61 35.4 76.9)"/><ellipse cx="49.1" cy="51.9" rx="1.42" ry="0.75" fill="#505050" opacity="0.55" transform="rotate(153 49.1 51.9)"/><ellipse cx="311.3" cy="78.8" rx="1.52" ry="0.80" fill="#505050" opacity="0.55" transform="rotate(7 311.3 78.8)"/><ellipse cx="288.7" cy="54.2" rx="1.33" ry="0.70" fill="#505050" opacity="0.55" transform="rotate(118 288.7 54.2)"/><ellipse cx="279.2" cy="44.8" rx="1.33" ry="0.70" fill="#505050" opacity="0.55" transform="rotate(83 279.2 44.8)"/><ellipse cx="138.7" cy="20.3" rx="1.42" ry="0.75" fill="#505050" opacity="0.55" transform="rotate(112 138.7 20.3)"/><ellipse cx="156.6" cy="8.0" rx="1.33" ry="0.70" fill="#505050" opacity="0.55" transform="rotate(151 156.6 8.0)"/><ellipse cx="10.4" cy="176.9" rx="1.33" ry="0.70" fill="#505050" opacity="0.55" transform="rotate(50 10.4 176.9)"/><ellipse cx="227.4" cy="169.8" rx="1.42" ry="0.75" fill="#505050" opacity="0.55" transform="rotate(132 227.4 169.8)"/><ellipse cx="245.3" cy="129.7" rx="1.42" ry="0.75" fill="#505050" opacity="0.55" transform="rotate(59 245.3 129.7)"/><ellipse cx="302.8" cy="121.2" rx="1.33" ry="0.70" fill="#505050" opacity="0.55" transform="rotate(163 302.8 121.2)"/><ellipse cx="26.9" cy="200.5" rx="1.33" ry="0.70" fill="#505050" opacity="0.55" transform="rotate(75 26.9 200.5)"/><ellipse cx="41.0" cy="207.5" rx="1.33" ry="0.70" fill="#505050" opacity="0.55" transform="rotate(127 41.0 207.5)"/><ellipse cx="187.3" cy="114.6" rx="1.33" ry="0.70" fill="#505050" opacity="0.55" transform="rotate(1 187.3 114.6)"/><ellipse cx="111.8" cy="63.7" rx="1.33" ry="0.70" fill="#505050" opacity="0.55" transform="rotate(169 111.8 63.7)"/><ellipse cx="100.0" cy="62.7" rx="1.23" ry="0.65" fill="#505050" opacity="0.55" transform="rotate(21 100.0 62.7)"/><ellipse cx="84.9" cy="57.1" rx="1.33" ry="0.70" fill="#505050" opacity="0.55" transform="rotate(117 84.9 57.1)"/><ellipse cx="91.5" cy="68.4" rx="1.23" ry="0.65" fill="#505050" opacity="0.55" transform="rotate(167 91.5 68.4)"/><ellipse cx="142.5" cy="49.5" rx="1.23" ry="0.65" fill="#505050" opacity="0.55" transform="rotate(71 142.5 49.5)"/><ellipse cx="209.4" cy="54.2" rx="1.33" ry="0.70" fill="#505050" opacity="0.55" transform="rotate(104 209.4 54.2)"/><ellipse cx="217.9" cy="61.3" rx="1.23" ry="0.65" fill="#505050" opacity="0.55" transform="rotate(141 217.9 61.3)"/><ellipse cx="206.1" cy="66.0" rx="1.23" ry="0.65" fill="#505050" opacity="0.55" transform="rotate(21 206.1 66.0)"/><ellipse cx="104.7" cy="87.3" rx="1.23" ry="0.65" fill="#505050" opacity="0.55" transform="rotate(65 104.7 87.3)"/><ellipse cx="133.0" cy="101.4" rx="1.23" ry="0.65" fill="#505050" opacity="0.55" transform="rotate(80 133.0 101.4)"/><circle cx="235.6" cy="127.2" r="0.36" fill="#5a5a5a" opacity="0.29"/><circle cx="37.0" cy="29.9" r="0.45" fill="#5a5a5a" opacity="0.17"/><circle cx="9.2" cy="168.6" r="0.42" fill="#5a5a5a" opacity="0.38"/><circle cx="20.0" cy="94.2" r="0.60" fill="#5a5a5a" opacity="0.25"/><circle cx="177.0" cy="51.7" r="0.59" fill="#5a5a5a" opacity="0.23"/><circle cx="99.1" cy="7.6" r="0.49" fill="#5a5a5a" opacity="0.38"/><circle cx="45.1" cy="173.9" r="0.35" fill="#5a5a5a" opacity="0.27"/><circle cx="152.8" cy="167.9" r="0.42" fill="#5a5a5a" opacity="0.28"/><circle cx="305.1" cy="188.9" r="0.50" fill="#5a5a5a" opacity="0.25"/><circle cx="124.7" cy="241.9" r="0.35" fill="#5a5a5a" opacity="0.37"/><circle cx="301.9" cy="146.4" r="0.70" fill="#5a5a5a" opacity="0.15"/><circle cx="61.2" cy="243.3" r="0.56" fill="#5a5a5a" opacity="0.29"/><circle cx="16.9" cy="39.2" r="0.50" fill="#5a5a5a" opacity="0.15"/><circle cx="190.5" cy="203.5" r="0.49" fill="#5a5a5a" opacity="0.17"/><circle cx="67.8" cy="157.0" r="0.36" fill="#5a5a5a" opacity="0.24"/><circle cx="194.1" cy="34.6" r="0.56" fill="#5a5a5a" opacity="0.36"/><circle cx="45.5" cy="96.8" r="0.57" fill="#5a5a5a" opacity="0.23"/><circle cx="73.8" cy="150.7" r="0.60" fill="#5a5a5a" opacity="0.19"/><circle cx="196.2" cy="137.1" r="0.59" fill="#5a5a5a" opacity="0.25"/><circle cx="151.5" cy="22.9" r="0.37" fill="#5a5a5a" opacity="0.18"/><circle cx="160.6" cy="65.3" r="0.61" fill="#5a5a5a" opacity="0.25"/><circle cx="132.6" cy="221.4" r="0.52" fill="#5a5a5a" opacity="0.28"/><circle cx="288.0" cy="238.8" r="0.39" fill="#5a5a5a" opacity="0.27"/><circle cx="203.7" cy="152.0" r="0.38" fill="#5a5a5a" opacity="0.20"/><circle cx="283.6" cy="184.0" r="0.37" fill="#5a5a5a" opacity="0.25"/><circle cx="80.1" cy="15.2" r="0.45" fill="#5a5a5a" opacity="0.28"/><circle cx="301.4" cy="26.2" r="0.40" fill="#5a5a5a" opacity="0.26"/><circle cx="105.1" cy="180.1" r="0.53" fill="#5a5a5a" opacity="0.39"/><circle cx="184.3" cy="225.9" r="0.52" fill="#5a5a5a" opacity="0.24"/><circle cx="99.3" cy="12.1" r="0.56" fill="#5a5a5a" opacity="0.17"/><circle cx="24.6" cy="78.7" r="0.40" fill="#5a5a5a" opacity="0.17"/><circle cx="142.5" cy="92.4" r="0.37" fill="#5a5a5a" opacity="0.38"/><circle cx="229.3" cy="35.1" r="0.69" fill="#5a5a5a" opacity="0.24"/><circle cx="30.0" cy="117.7" r="0.38" fill="#5a5a5a" opacity="0.36"/><circle cx="292.6" cy="11.3" r="0.52" fill="#5a5a5a" opacity="0.15"/><circle cx="206.4" cy="95.1" r="0.35" fill="#5a5a5a" opacity="0.17"/><circle cx="31.7" cy="31.8" r="0.44" fill="#5a5a5a" opacity="0.25"/><circle cx="104.9" cy="228.5" r="0.59" fill="#5a5a5a" opacity="0.26"/><circle cx="145.4" cy="134.1" r="0.53" fill="#5a5a5a" opacity="0.28"/><circle cx="98.8" cy="25.1" r="0.36" fill="#5a5a5a" opacity="0.39"/><circle cx="38.5" cy="191.4" r="0.58" fill="#5a5a5a" opacity="0.27"/><circle cx="277.9" cy="92.4" r="0.40" fill="#5a5a5a" opacity="0.30"/><circle cx="162.4" cy="185.1" r="0.47" fill="#5a5a5a" opacity="0.38"/><circle cx="156.3" cy="62.0" r="0.49" fill="#5a5a5a" opacity="0.21"/><circle cx="197.8" cy="197.1" r="0.61" fill="#5a5a5a" opacity="0.20"/><circle cx="69.5" cy="56.8" r="0.67" fill="#5a5a5a" opacity="0.20"/><circle cx="45.1" cy="88.3" r="0.66" fill="#5a5a5a" opacity="0.16"/><circle cx="23.6" cy="239.6" r="0.64" fill="#5a5a5a" opacity="0.18"/><circle cx="148.0" cy="226.5" r="0.64" fill="#5a5a5a" opacity="0.25"/><circle cx="162.9" cy="165.5" r="0.60" fill="#5a5a5a" opacity="0.36"/><circle cx="194.9" cy="81.0" r="0.64" fill="#5a5a5a" opacity="0.22"/><circle cx="189.7" cy="167.0" r="0.45" fill="#5a5a5a" opacity="0.24"/><circle cx="202.4" cy="139.5" r="0.57" fill="#5a5a5a" opacity="0.25"/><circle cx="62.0" cy="188.8" r="0.44" fill="#5a5a5a" opacity="0.34"/><circle cx="247.5" cy="240.5" r="0.39" fill="#5a5a5a" opacity="0.18"/><circle cx="167.6" cy="157.8" r="0.48" fill="#5a5a5a" opacity="0.17"/><circle cx="64.5" cy="202.0" r="0.44" fill="#5a5a5a" opacity="0.33"/><circle cx="234.7" cy="132.5" r="0.36" fill="#5a5a5a" opacity="0.21"/><circle cx="241.9" cy="133.7" r="0.68" fill="#5a5a5a" opacity="0.28"/><circle cx="308.6" cy="42.3" r="0.65" fill="#5a5a5a" opacity="0.32"/><circle cx="72.4" cy="102.6" r="0.66" fill="#5a5a5a" opacity="0.25"/><circle cx="141.7" cy="51.3" r="0.66" fill="#5a5a5a" opacity="0.15"/><circle cx="172.1" cy="160.8" r="0.53" fill="#5a5a5a" opacity="0.35"/><circle cx="108.9" cy="82.5" r="0.69" fill="#5a5a5a" opacity="0.17"/><circle cx="268.7" cy="195.8" r="0.67" fill="#5a5a5a" opacity="0.18"/><circle cx="78.0" cy="97.8" r="0.38" fill="#5a5a5a" opacity="0.23"/><circle cx="302.5" cy="228.0" r="0.44" fill="#5a5a5a" opacity="0.33"/><circle cx="8.8" cy="125.3" r="0.36" fill="#5a5a5a" opacity="0.24"/><circle cx="132.8" cy="70.1" r="0.67" fill="#5a5a5a" opacity="0.20"/><circle cx="269.1" cy="107.1" r="0.36" fill="#5a5a5a" opacity="0.28"/><circle cx="213.8" cy="224.1" r="0.51" fill="#5a5a5a" opacity="0.40"/><circle cx="279.2" cy="128.5" r="0.59" fill="#5a5a5a" opacity="0.26"/><circle cx="272.9" cy="143.1" r="0.59" fill="#5a5a5a" opacity="0.34"/><circle cx="138.3" cy="138.3" r="0.64" fill="#5a5a5a" opacity="0.29"/><circle cx="54.2" cy="127.6" r="0.67" fill="#5a5a5a" opacity="0.21"/><circle cx="209.1" cy="233.4" r="0.65" fill="#5a5a5a" opacity="0.30"/><circle cx="97.0" cy="37.9" r="0.54" fill="#5a5a5a" opacity="0.22"/><circle cx="156.1" cy="102.8" r="0.39" fill="#5a5a5a" opacity="0.15"/><circle cx="119.2" cy="133.4" r="0.37" fill="#5a5a5a" opacity="0.38"/><circle cx="170.2" cy="241.8" r="0.39" fill="#5a5a5a" opacity="0.17"/><circle cx="55.0" cy="227.7" r="0.51" fill="#5a5a5a" opacity="0.38"/><circle cx="248.6" cy="101.1" r="0.44" fill="#5a5a5a" opacity="0.27"/><circle cx="107.8" cy="220.5" r="0.68" fill="#5a5a5a" opacity="0.38"/><circle cx="164.4" cy="30.1" r="0.50" fill="#5a5a5a" opacity="0.16"/><circle cx="83.5" cy="172.7" r="0.69" fill="#5a5a5a" opacity="0.16"/><circle cx="51.5" cy="6.8" r="0.45" fill="#5a5a5a" opacity="0.33"/><circle cx="78.7" cy="123.9" r="0.52" fill="#5a5a5a" opacity="0.30"/><circle cx="264.3" cy="153.8" r="0.60" fill="#5a5a5a" opacity="0.33"/><circle cx="272.5" cy="9.6" r="0.57" fill="#5a5a5a" opacity="0.36"/><circle cx="192.2" cy="133.3" r="0.65" fill="#5a5a5a" opacity="0.28"/><circle cx="70.7" cy="55.9" r="0.54" fill="#5a5a5a" opacity="0.30"/><circle cx="45.7" cy="223.8" r="0.57" fill="#5a5a5a" opacity="0.24"/><circle cx="59.4" cy="148.9" r="0.66" fill="#5a5a5a" opacity="0.20"/><circle cx="241.9" cy="50.7" r="0.38" fill="#5a5a5a" opacity="0.37"/><circle cx="44.5" cy="25.2" r="0.49" fill="#5a5a5a" opacity="0.26"/><circle cx="291.6" cy="134.5" r="0.60" fill="#5a5a5a" opacity="0.20"/><circle cx="195.9" cy="196.0" r="0.38" fill="#5a5a5a" opacity="0.29"/><circle cx="113.3" cy="201.3" r="0.48" fill="#5a5a5a" opacity="0.33"/><circle cx="198.0" cy="86.5" r="0.70" fill="#5a5a5a" opacity="0.36"/><circle cx="249.3" cy="119.8" r="0.36" fill="#5a5a5a" opacity="0.34"/><circle cx="191.4" cy="221.5" r="0.52" fill="#5a5a5a" opacity="0.20"/><circle cx="39.1" cy="45.4" r="0.41" fill="#5a5a5a" opacity="0.22"/><circle cx="209.6" cy="143.3" r="0.40" fill="#5a5a5a" opacity="0.32"/><circle cx="27.7" cy="27.2" r="0.49" fill="#5a5a5a" opacity="0.26"/><circle cx="112.4" cy="54.5" r="0.48" fill="#5a5a5a" opacity="0.31"/><circle cx="16.5" cy="52.1" r="0.49" fill="#5a5a5a" opacity="0.24"/><circle cx="117.1" cy="225.5" r="0.56" fill="#5a5a5a" opacity="0.17"/><circle cx="246.1" cy="81.8" r="0.38" fill="#5a5a5a" opacity="0.36"/><circle cx="271.6" cy="222.4" r="0.68" fill="#5a5a5a" opacity="0.29"/><circle cx="62.4" cy="144.5" r="0.47" fill="#5a5a5a" opacity="0.34"/><circle cx="89.4" cy="31.9" r="0.61" fill="#5a5a5a" opacity="0.19"/><circle cx="289.4" cy="36.0" r="0.47" fill="#5a5a5a" opacity="0.28"/><circle cx="117.0" cy="107.7" r="0.41" fill="#5a5a5a" opacity="0.20"/><circle cx="60.5" cy="195.6" r="0.46" fill="#5a5a5a" opacity="0.18"/><circle cx="275.4" cy="242.0" r="0.67" fill="#5a5a5a" opacity="0.16"/><circle cx="87.4" cy="235.0" r="0.45" fill="#5a5a5a" opacity="0.20"/><circle cx="128.1" cy="47.7" r="0.38" fill="#5a5a5a" opacity="0.28"/><circle cx="156.1" cy="55.2" r="0.39" fill="#5a5a5a" opacity="0.25"/><circle cx="179.7" cy="31.6" r="0.39" fill="#5a5a5a" opacity="0.21"/><circle cx="139.6" cy="125.3" r="0.62" fill="#5a5a5a" opacity="0.31"/><circle cx="7.3" cy="66.1" r="0.45" fill="#5a5a5a" opacity="0.24"/><circle cx="169.2" cy="103.9" r="0.53" fill="#5a5a5a" opacity="0.36"/><circle cx="34.4" cy="110.8" r="0.58" fill="#5a5a5a" opacity="0.29"/><circle cx="208.3" cy="233.6" r="0.49" fill="#5a5a5a" opacity="0.38"/><circle cx="121.9" cy="237.1" r="0.65" fill="#5a5a5a" opacity="0.29"/><circle cx="186.3" cy="107.2" r="0.52" fill="#5a5a5a" opacity="0.22"/><circle cx="125.8" cy="79.1" r="0.54" fill="#5a5a5a" opacity="0.27"/><circle cx="86.4" cy="227.4" r="0.58" fill="#5a5a5a" opacity="0.34"/><circle cx="12.2" cy="189.6" r="0.56" fill="#5a5a5a" opacity="0.31"/><circle cx="128.9" cy="168.4" r="0.37" fill="#5a5a5a" opacity="0.23"/><circle cx="125.6" cy="143.8" r="0.60" fill="#5a5a5a" opacity="0.23"/><circle cx="247.7" cy="57.8" r="0.60" fill="#5a5a5a" opacity="0.21"/><circle cx="234.9" cy="14.9" r="0.38" fill="#5a5a5a" opacity="0.35"/><circle cx="281.9" cy="38.7" r="0.69" fill="#5a5a5a" opacity="0.21"/><circle cx="219.9" cy="16.1" r="0.50" fill="#5a5a5a" opacity="0.18"/><circle cx="267.2" cy="89.7" r="0.40" fill="#5a5a5a" opacity="0.24"/><circle cx="46.7" cy="104.2" r="0.56" fill="#5a5a5a" opacity="0.31"/><circle cx="212.4" cy="91.5" r="0.61" fill="#5a5a5a" opacity="0.35"/><circle cx="45.9" cy="73.7" r="0.40" fill="#5a5a5a" opacity="0.27"/><circle cx="157.7" cy="78.2" r="0.53" fill="#5a5a5a" opacity="0.36"/><circle cx="88.0" cy="150.5" r="0.60" fill="#5a5a5a" opacity="0.32"/><circle cx="62.1" cy="71.0" r="0.43" fill="#5a5a5a" opacity="0.39"/><circle cx="157.5" cy="160.9" r="0.42" fill="#5a5a5a" opacity="0.32"/><circle cx="196.0" cy="6.3" r="0.44" fill="#5a5a5a" opacity="0.16"/><circle cx="15.6" cy="57.5" r="0.45" fill="#5a5a5a" opacity="0.34"/><circle cx="283.0" cy="42.7" r="0.43" fill="#5a5a5a" opacity="0.40"/><circle cx="151.9" cy="89.1" r="0.47" fill="#5a5a5a" opacity="0.27"/><circle cx="44.8" cy="213.0" r="0.63" fill="#5a5a5a" opacity="0.26"/><circle cx="255.2" cy="205.4" r="0.62" fill="#5a5a5a" opacity="0.26"/><circle cx="232.4" cy="97.7" r="0.40" fill="#5a5a5a" opacity="0.19"/><circle cx="259.6" cy="147.4" r="0.45" fill="#5a5a5a" opacity="0.34"/><circle cx="256.5" cy="48.2" r="0.58" fill="#5a5a5a" opacity="0.30"/><circle cx="145.2" cy="81.9" r="0.54" fill="#5a5a5a" opacity="0.26"/><circle cx="177.6" cy="199.9" r="0.51" fill="#5a5a5a" opacity="0.36"/><circle cx="6.8" cy="78.5" r="0.67" fill="#5a5a5a" opacity="0.30"/><circle cx="216.4" cy="122.9" r="0.62" fill="#5a5a5a" opacity="0.23"/><circle cx="273.5" cy="56.6" r="0.58" fill="#5a5a5a" opacity="0.23"/><circle cx="281.0" cy="81.5" r="0.50" fill="#5a5a5a" opacity="0.30"/><circle cx="279.8" cy="169.1" r="0.45" fill="#5a5a5a" opacity="0.28"/><circle cx="307.3" cy="114.1" r="0.43" fill="#5a5a5a" opacity="0.39"/><circle cx="227.0" cy="128.0" r="0.38" fill="#5a5a5a" opacity="0.36"/><circle cx="11.4" cy="166.7" r="0.55" fill="#5a5a5a" opacity="0.35"/><circle cx="229.8" cy="92.5" r="0.49" fill="#5a5a5a" opacity="0.19"/><circle cx="184.7" cy="46.6" r="0.38" fill="#5a5a5a" opacity="0.26"/><circle cx="265.2" cy="199.1" r="0.43" fill="#5a5a5a" opacity="0.16"/><circle cx="52.5" cy="75.1" r="0.36" fill="#5a5a5a" opacity="0.36"/><circle cx="133.2" cy="143.8" r="0.46" fill="#5a5a5a" opacity="0.29"/><circle cx="106.2" cy="69.8" r="0.39" fill="#5a5a5a" opacity="0.23"/><circle cx="11.9" cy="161.0" r="0.38" fill="#5a5a5a" opacity="0.35"/><circle cx="133.0" cy="175.1" r="0.52" fill="#5a5a5a" opacity="0.38"/><circle cx="107.3" cy="114.3" r="0.47" fill="#5a5a5a" opacity="0.35"/><circle cx="105.8" cy="36.9" r="0.52" fill="#5a5a5a" opacity="0.35"/><circle cx="26.1" cy="152.5" r="0.37" fill="#5a5a5a" opacity="0.34"/><circle cx="305.2" cy="87.9" r="0.35" fill="#5a5a5a" opacity="0.24"/><circle cx="31.3" cy="115.7" r="0.54" fill="#5a5a5a" opacity="0.16"/><circle cx="114.6" cy="6.4" r="0.39" fill="#5a5a5a" opacity="0.38"/><circle cx="283.8" cy="63.0" r="0.41" fill="#5a5a5a" opacity="0.31"/><circle cx="213.1" cy="81.1" r="0.49" fill="#5a5a5a" opacity="0.28"/><circle cx="87.7" cy="216.9" r="0.52" fill="#5a5a5a" opacity="0.33"/><circle cx="96.7" cy="41.4" r="0.67" fill="#5a5a5a" opacity="0.38"/><circle cx="234.2" cy="8.1" r="0.52" fill="#5a5a5a" opacity="0.35"/><circle cx="99.5" cy="51.5" r="0.48" fill="#5a5a5a" opacity="0.30"/><circle cx="187.4" cy="117.4" r="0.53" fill="#5a5a5a" opacity="0.26"/><circle cx="277.4" cy="100.7" r="0.67" fill="#5a5a5a" opacity="0.38"/><circle cx="195.5" cy="230.4" r="0.54" fill="#5a5a5a" opacity="0.36"/><circle cx="152.1" cy="100.7" r="0.68" fill="#5a5a5a" opacity="0.32"/><circle cx="239.8" cy="26.2" r="0.65" fill="#5a5a5a" opacity="0.25"/><circle cx="70.4" cy="36.3" r="0.63" fill="#5a5a5a" opacity="0.39"/><circle cx="246.9" cy="190.0" r="0.63" fill="#5a5a5a" opacity="0.16"/><circle cx="286.5" cy="218.4" r="0.66" fill="#5a5a5a" opacity="0.38"/><circle cx="141.5" cy="63.2" r="0.50" fill="#5a5a5a" opacity="0.37"/><circle cx="131.1" cy="189.5" r="0.40" fill="#5a5a5a" opacity="0.38"/><circle cx="251.5" cy="35.5" r="0.61" fill="#5a5a5a" opacity="0.30"/><circle cx="161.7" cy="16.7" r="0.55" fill="#5a5a5a" opacity="0.19"/><circle cx="66.4" cy="224.2" r="0.40" fill="#5a5a5a" opacity="0.18"/><circle cx="111.5" cy="151.8" r="0.53" fill="#5a5a5a" opacity="0.37"/><circle cx="216.0" cy="23.9" r="0.61" fill="#5a5a5a" opacity="0.29"/><circle cx="158.6" cy="8.6" r="0.42" fill="#5a5a5a" opacity="0.20"/><circle cx="212.5" cy="191.8" r="0.50" fill="#5a5a5a" opacity="0.16"/><circle cx="130.3" cy="122.8" r="0.68" fill="#5a5a5a" opacity="0.39"/><circle cx="100.6" cy="101.4" r="0.54" fill="#5a5a5a" opacity="0.40"/><circle cx="207.9" cy="20.1" r="0.38" fill="#5a5a5a" opacity="0.19"/><circle cx="208.0" cy="166.4" r="0.61" fill="#5a5a5a" opacity="0.35"/><circle cx="41.3" cy="111.0" r="0.65" fill="#5a5a5a" opacity="0.33"/><circle cx="149.2" cy="74.5" r="0.39" fill="#5a5a5a" opacity="0.34"/><circle cx="265.6" cy="206.9" r="0.60" fill="#5a5a5a" opacity="0.38"/><circle cx="50.5" cy="154.9" r="0.68" fill="#5a5a5a" opacity="0.34"/><circle cx="295.6" cy="185.4" r="0.54" fill="#5a5a5a" opacity="0.17"/><circle cx="61.7" cy="94.5" r="0.39" fill="#5a5a5a" opacity="0.23"/><circle cx="87.7" cy="116.9" r="0.57" fill="#5a5a5a" opacity="0.26"/></g><path d="M0.5 0V247.8H313.6" fill="none" stroke="#fff" stroke-opacity="0.16" stroke-width="1"/></g><rect x="-0.5" y="-0.5" width="314.6" height="249.3" fill="none" stroke="#0b0b0c" stroke-width="1"/></svg>

</body></html>
